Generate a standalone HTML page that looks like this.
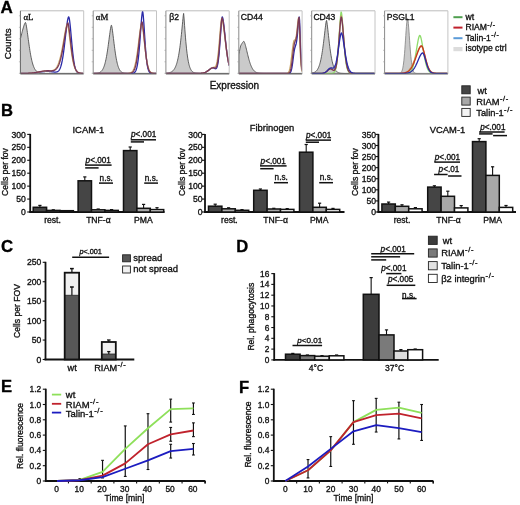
<!DOCTYPE html>
<html><head><meta charset="utf-8"><style>
html,body{margin:0;padding:0;background:#fff;}
svg text{}

body{width:520px;height:505px;overflow:hidden;font-family:"Liberation Sans",sans-serif;}
svg{display:block;will-change:transform;filter:blur(0.3px);}
</style></head><body>
<svg width="520" height="505" viewBox="0 0 520 505">
<rect width="520" height="505" fill="#fff"/>
<text x="0.6" y="13.2" font-size="17" text-anchor="start" font-weight="bold" fill="#000" stroke="#000" stroke-width="0.33" style="font-family:'Liberation Sans', sans-serif">A</text>
<text transform="translate(10.8,43.9) rotate(-90)" font-size="9.75" text-anchor="middle" fill="#111" stroke="#111" stroke-width="0.33" style="font-family:'Liberation Sans', sans-serif">Counts</text>
<text x="209.7" y="89.1" font-size="10" text-anchor="start" font-weight="normal" fill="#111" stroke="#111" stroke-width="0.33" style="font-family:'Liberation Sans', sans-serif">Expression</text>
<g>
<clipPath id="c0"><rect x="20.4" y="10.8" width="63.3" height="63.2"/></clipPath>
<g clip-path="url(#c0)">
<path d="M20.4 74 L20.4 38.82 L20.72 37.57 L21.03 36.31 L21.35 35.06 L21.67 33.81 L21.98 32.58 L22.3 31.36 L22.62 30.17 L22.93 29.01 L23.25 27.89 L23.56 26.83 L23.88 25.82 L24.2 24.89 L24.51 24.06 L24.83 23.33 L25.15 22.76 L25.46 22.41 L25.78 23.05 L26.1 24.4 L26.41 26.11 L26.73 28.08 L27.05 30.23 L27.36 32.48 L27.68 34.81 L28 37.16 L28.31 39.51 L28.63 41.82 L28.95 44.09 L29.26 46.29 L29.58 48.41 L29.89 50.44 L30.21 52.37 L30.53 54.19 L30.84 55.91 L31.16 57.52 L31.48 59.02 L31.79 60.41 L32.11 61.7 L32.43 62.89 L32.74 63.98 L33.06 64.98 L33.38 65.88 L33.69 66.71 L34.01 67.46 L34.33 68.14 L34.64 68.75 L34.96 69.3 L35.28 69.79 L35.59 70.23 L35.91 70.62 L36.22 70.97 L36.54 71.28 L36.86 71.55 L37.17 71.79 L37.49 72 L37.81 72.19 L38.12 72.35 L38.44 72.5 L38.76 72.62 L39.07 72.73 L39.39 72.82 L39.71 72.91 L40.02 72.98 L40.34 73.04 L40.66 73.09 L40.97 73.14 L41.29 73.18 L41.61 73.21 L41.92 73.24 L42.24 73.26 L42.55 73.29 L42.87 73.3 L43.19 73.32 L43.5 73.33 L43.82 73.34 L44.14 73.35 L44.45 73.36 L44.77 73.37 L45.09 73.37 L45.4 73.38 L45.72 73.38 L46.04 73.38 L46.35 73.39 L46.67 73.39 L46.99 73.39 L47.3 73.39 L47.62 73.39 L47.94 73.39 L48.25 73.4 L48.57 73.4 L48.88 73.4 L49.2 73.4 L49.52 73.4 L49.83 73.4 L50.15 73.4 L50.47 73.4 L50.78 73.4 L51.1 73.4 L51.42 73.4 L51.73 73.4 L52.05 73.4 L52.37 73.4 L52.68 73.4 L53 73.4 L53.32 73.4 L53.63 73.4 L53.95 73.4 L54.27 73.4 L54.58 73.4 L54.9 73.4 L55.21 73.4 L55.53 73.4 L55.85 73.4 L56.16 73.4 L56.48 73.4 L56.8 73.4 L57.11 73.4 L57.43 73.4 L57.75 73.4 L58.06 73.4 L58.38 73.4 L58.7 73.4 L59.01 73.4 L59.33 73.4 L59.65 73.4 L59.96 73.4 L60.28 73.4 L60.6 73.4 L60.91 73.4 L61.23 73.4 L61.54 73.4 L61.86 73.4 L62.18 73.4 L62.49 73.4 L62.81 73.4 L63.13 73.4 L63.44 73.4 L63.76 73.4 L64.08 73.4 L64.39 73.4 L64.71 73.4 L65.03 73.4 L65.34 73.4 L65.66 73.4 L65.98 73.4 L66.29 73.4 L66.61 73.4 L66.93 73.4 L67.24 73.4 L67.56 73.4 L67.88 73.4 L68.19 73.4 L68.51 73.4 L68.82 73.4 L69.14 73.4 L69.46 73.4 L69.77 73.4 L70.09 73.4 L70.41 73.4 L70.72 73.4 L71.04 73.4 L71.36 73.4 L71.67 73.4 L71.99 73.4 L72.31 73.4 L72.62 73.4 L72.94 73.4 L73.26 73.4 L73.57 73.4 L73.89 73.4 L74.2 73.4 L74.52 73.4 L74.84 73.4 L75.15 73.4 L75.47 73.4 L75.79 73.4 L76.1 73.4 L76.42 73.4 L76.74 73.4 L77.05 73.4 L77.37 73.4 L77.69 73.4 L78 73.4 L78.32 73.4 L78.64 73.4 L78.95 73.4 L79.27 73.4 L79.59 73.4 L79.9 73.4 L80.22 73.4 L80.53 73.4 L80.85 73.4 L81.17 73.4 L81.48 73.4 L81.8 73.4 L82.12 73.4 L82.43 73.4 L82.75 73.4 L83.07 73.4 L83.38 73.4 L83.7 73.4 L83.7 74 Z" fill="#cacaca" stroke="#505050" stroke-width="0.9"/>
<path d="M20.4 73.4 L20.72 73.39 L21.03 73.39 L21.35 73.39 L21.67 73.39 L21.98 73.39 L22.3 73.39 L22.62 73.39 L22.93 73.39 L23.25 73.38 L23.56 73.38 L23.88 73.38 L24.2 73.38 L24.51 73.37 L24.83 73.37 L25.15 73.37 L25.46 73.36 L25.78 73.36 L26.1 73.35 L26.41 73.35 L26.73 73.34 L27.05 73.33 L27.36 73.33 L27.68 73.32 L28 73.31 L28.31 73.3 L28.63 73.29 L28.95 73.28 L29.26 73.26 L29.58 73.25 L29.89 73.24 L30.21 73.22 L30.53 73.2 L30.84 73.19 L31.16 73.17 L31.48 73.15 L31.79 73.12 L32.11 73.1 L32.43 73.07 L32.74 73.05 L33.06 73.02 L33.38 72.99 L33.69 72.96 L34.01 72.93 L34.33 72.89 L34.64 72.86 L34.96 72.82 L35.28 72.78 L35.59 72.74 L35.91 72.7 L36.22 72.66 L36.54 72.62 L36.86 72.57 L37.17 72.52 L37.49 72.48 L37.81 72.43 L38.12 72.38 L38.44 72.33 L38.76 72.28 L39.07 72.23 L39.39 72.18 L39.71 72.13 L40.02 72.08 L40.34 72.03 L40.66 71.98 L40.97 71.93 L41.29 71.89 L41.61 71.84 L41.92 71.8 L42.24 71.75 L42.55 71.71 L42.87 71.67 L43.19 71.63 L43.5 71.6 L43.82 71.57 L44.14 71.54 L44.45 71.51 L44.77 71.48 L45.09 71.46 L45.4 71.44 L45.72 71.43 L46.04 71.42 L46.35 71.41 L46.67 71.4 L46.99 71.4 L47.3 71.4 L47.62 71.41 L47.94 71.41 L48.25 71.43 L48.57 71.44 L48.88 71.46 L49.2 71.48 L49.52 71.5 L49.83 71.53 L50.15 71.56 L50.47 71.59 L50.78 71.63 L51.1 71.66 L51.42 71.7 L51.73 71.74 L52.05 71.78 L52.37 71.82 L52.68 71.86 L53 71.9 L53.32 71.93 L53.63 71.97 L53.95 72 L54.27 72.03 L54.58 72.06 L54.9 72.07 L55.21 72.08 L55.53 72.08 L55.85 72.06 L56.16 72.03 L56.48 71.98 L56.8 71.9 L57.11 71.8 L57.43 71.67 L57.75 71.5 L58.06 71.29 L58.38 71.03 L58.7 70.71 L59.01 70.32 L59.33 69.86 L59.65 69.32 L59.96 68.69 L60.28 67.95 L60.6 67.11 L60.91 66.14 L61.23 65.04 L61.54 63.81 L61.86 62.42 L62.18 60.89 L62.49 59.2 L62.81 57.35 L63.13 55.34 L63.44 53.19 L63.76 50.88 L64.08 48.44 L64.39 45.88 L64.71 43.23 L65.03 40.5 L65.34 37.73 L65.66 34.95 L65.98 32.19 L66.29 29.51 L66.61 26.95 L66.93 24.56 L67.24 22.38 L67.56 20.48 L67.88 18.91 L68.19 17.73 L68.51 17.01 L68.82 16.97 L69.14 17.91 L69.46 19.58 L69.77 21.84 L70.09 24.57 L70.41 27.65 L70.72 30.99 L71.04 34.49 L71.36 38.04 L71.67 41.57 L71.99 45.02 L72.31 48.33 L72.62 51.45 L72.94 54.35 L73.26 57.01 L73.57 59.42 L73.89 61.58 L74.2 63.49 L74.52 65.16 L74.84 66.6 L75.15 67.84 L75.47 68.88 L75.79 69.76 L76.1 70.49 L76.42 71.1 L76.74 71.59 L77.05 71.99 L77.37 72.3 L77.69 72.56 L78 72.76 L78.32 72.91 L78.64 73.03 L78.95 73.13 L79.27 73.2 L79.59 73.25 L79.9 73.29 L80.22 73.32 L80.53 73.34 L80.85 73.36 L81.17 73.37 L81.48 73.38 L81.8 73.39 L82.12 73.39 L82.43 73.39 L82.75 73.4 L83.07 73.4 L83.38 73.4 L83.7 73.4" fill="none" stroke="#2a2aa8" stroke-width="1.3" stroke-linejoin="round"/>
<path d="M20.4 73.39 L20.72 73.39 L21.03 73.39 L21.35 73.39 L21.67 73.39 L21.98 73.39 L22.3 73.39 L22.62 73.39 L22.93 73.38 L23.25 73.38 L23.56 73.38 L23.88 73.38 L24.2 73.37 L24.51 73.37 L24.83 73.36 L25.15 73.36 L25.46 73.35 L25.78 73.35 L26.1 73.34 L26.41 73.34 L26.73 73.33 L27.05 73.32 L27.36 73.31 L27.68 73.3 L28 73.29 L28.31 73.28 L28.63 73.27 L28.95 73.25 L29.26 73.24 L29.58 73.22 L29.89 73.2 L30.21 73.18 L30.53 73.16 L30.84 73.14 L31.16 73.12 L31.48 73.09 L31.79 73.07 L32.11 73.04 L32.43 73.01 L32.74 72.98 L33.06 72.94 L33.38 72.91 L33.69 72.87 L34.01 72.83 L34.33 72.79 L34.64 72.75 L34.96 72.71 L35.28 72.66 L35.59 72.61 L35.91 72.56 L36.22 72.51 L36.54 72.46 L36.86 72.4 L37.17 72.35 L37.49 72.29 L37.81 72.23 L38.12 72.18 L38.44 72.12 L38.76 72.06 L39.07 72 L39.39 71.94 L39.71 71.88 L40.02 71.82 L40.34 71.76 L40.66 71.7 L40.97 71.64 L41.29 71.58 L41.61 71.52 L41.92 71.47 L42.24 71.42 L42.55 71.37 L42.87 71.32 L43.19 71.27 L43.5 71.22 L43.82 71.18 L44.14 71.14 L44.45 71.11 L44.77 71.07 L45.09 71.04 L45.4 71.01 L45.72 70.99 L46.04 70.97 L46.35 70.95 L46.67 70.93 L46.99 70.92 L47.3 70.9 L47.62 70.89 L47.94 70.88 L48.25 70.88 L48.57 70.87 L48.88 70.86 L49.2 70.85 L49.52 70.84 L49.83 70.83 L50.15 70.82 L50.47 70.8 L50.78 70.77 L51.1 70.74 L51.42 70.7 L51.73 70.66 L52.05 70.6 L52.37 70.53 L52.68 70.45 L53 70.35 L53.32 70.23 L53.63 70.09 L53.95 69.93 L54.27 69.75 L54.58 69.54 L54.9 69.29 L55.21 69.02 L55.53 68.71 L55.85 68.36 L56.16 67.97 L56.48 67.53 L56.8 67.05 L57.11 66.51 L57.43 65.92 L57.75 65.27 L58.06 64.57 L58.38 63.79 L58.7 62.95 L59.01 62.05 L59.33 61.07 L59.65 60.02 L59.96 58.89 L60.28 57.69 L60.6 56.42 L60.91 55.07 L61.23 53.64 L61.54 52.15 L61.86 50.59 L62.18 48.96 L62.49 47.28 L62.81 45.55 L63.13 43.77 L63.44 41.96 L63.76 40.13 L64.08 38.29 L64.39 36.46 L64.71 34.65 L65.03 32.88 L65.34 31.17 L65.66 29.55 L65.98 28.05 L66.29 26.69 L66.61 25.52 L66.93 24.58 L67.24 23.96 L67.56 24.07 L67.88 25.17 L68.19 26.8 L68.51 28.8 L68.82 31.06 L69.14 33.51 L69.46 36.07 L69.77 38.7 L70.09 41.33 L70.41 43.94 L70.72 46.48 L71.04 48.93 L71.36 51.28 L71.67 53.49 L71.99 55.58 L72.31 57.51 L72.62 59.3 L72.94 60.95 L73.26 62.45 L73.57 63.81 L73.89 65.04 L74.2 66.13 L74.52 67.11 L74.84 67.98 L75.15 68.75 L75.47 69.42 L75.79 70.01 L76.1 70.52 L76.42 70.97 L76.74 71.35 L77.05 71.68 L77.37 71.96 L77.69 72.2 L78 72.4 L78.32 72.57 L78.64 72.72 L78.95 72.84 L79.27 72.94 L79.59 73.02 L79.9 73.09 L80.22 73.15 L80.53 73.2 L80.85 73.24 L81.17 73.27 L81.48 73.29 L81.8 73.32 L82.12 73.33 L82.43 73.35 L82.75 73.36 L83.07 73.37 L83.38 73.37 L83.7 73.38" fill="none" stroke="#c6a263" stroke-width="1.3" stroke-linejoin="round"/>
<path d="M20.4 73.39 L20.72 73.39 L21.03 73.39 L21.35 73.39 L21.67 73.39 L21.98 73.39 L22.3 73.39 L22.62 73.38 L22.93 73.38 L23.25 73.38 L23.56 73.38 L23.88 73.37 L24.2 73.37 L24.51 73.37 L24.83 73.36 L25.15 73.36 L25.46 73.35 L25.78 73.34 L26.1 73.34 L26.41 73.33 L26.73 73.32 L27.05 73.31 L27.36 73.3 L27.68 73.29 L28 73.28 L28.31 73.27 L28.63 73.26 L28.95 73.24 L29.26 73.22 L29.58 73.21 L29.89 73.19 L30.21 73.17 L30.53 73.14 L30.84 73.12 L31.16 73.1 L31.48 73.07 L31.79 73.04 L32.11 73.01 L32.43 72.98 L32.74 72.94 L33.06 72.91 L33.38 72.87 L33.69 72.83 L34.01 72.79 L34.33 72.74 L34.64 72.7 L34.96 72.65 L35.28 72.6 L35.59 72.55 L35.91 72.49 L36.22 72.44 L36.54 72.38 L36.86 72.32 L37.17 72.26 L37.49 72.2 L37.81 72.14 L38.12 72.07 L38.44 72.01 L38.76 71.95 L39.07 71.88 L39.39 71.82 L39.71 71.75 L40.02 71.68 L40.34 71.62 L40.66 71.56 L40.97 71.49 L41.29 71.43 L41.61 71.37 L41.92 71.31 L42.24 71.26 L42.55 71.2 L42.87 71.15 L43.19 71.1 L43.5 71.05 L43.82 71.01 L44.14 70.97 L44.45 70.93 L44.77 70.9 L45.09 70.87 L45.4 70.84 L45.72 70.81 L46.04 70.79 L46.35 70.78 L46.67 70.77 L46.99 70.76 L47.3 70.75 L47.62 70.75 L47.94 70.75 L48.25 70.75 L48.57 70.75 L48.88 70.76 L49.2 70.77 L49.52 70.78 L49.83 70.78 L50.15 70.79 L50.47 70.8 L50.78 70.8 L51.1 70.8 L51.42 70.8 L51.73 70.78 L52.05 70.77 L52.37 70.74 L52.68 70.71 L53 70.66 L53.32 70.6 L53.63 70.52 L53.95 70.43 L54.27 70.31 L54.58 70.18 L54.9 70.02 L55.21 69.83 L55.53 69.61 L55.85 69.36 L56.16 69.07 L56.48 68.74 L56.8 68.37 L57.11 67.95 L57.43 67.49 L57.75 66.96 L58.06 66.39 L58.38 65.74 L58.7 65.04 L59.01 64.27 L59.33 63.42 L59.65 62.5 L59.96 61.51 L60.28 60.43 L60.6 59.28 L60.91 58.04 L61.23 56.72 L61.54 55.31 L61.86 53.83 L62.18 52.26 L62.49 50.62 L62.81 48.91 L63.13 47.13 L63.44 45.3 L63.76 43.41 L64.08 41.49 L64.39 39.55 L64.71 37.59 L65.03 35.64 L65.34 33.72 L65.66 31.84 L65.98 30.04 L66.29 28.35 L66.61 26.78 L66.93 25.39 L67.24 24.21 L67.56 23.32 L67.88 22.85 L68.19 23.5 L68.51 24.93 L68.82 26.85 L69.14 29.1 L69.46 31.59 L69.77 34.24 L70.09 36.97 L70.41 39.74 L70.72 42.49 L71.04 45.18 L71.36 47.78 L71.67 50.27 L71.99 52.63 L72.31 54.84 L72.62 56.9 L72.94 58.8 L73.26 60.54 L73.57 62.13 L73.89 63.56 L74.2 64.85 L74.52 66.01 L74.84 67.03 L75.15 67.94 L75.47 68.73 L75.79 69.43 L76.1 70.03 L76.42 70.56 L76.74 71.01 L77.05 71.39 L77.37 71.73 L77.69 72.01 L78 72.25 L78.32 72.45 L78.64 72.61 L78.95 72.76 L79.27 72.87 L79.59 72.97 L79.9 73.05 L80.22 73.12 L80.53 73.17 L80.85 73.22 L81.17 73.25 L81.48 73.28 L81.8 73.31 L82.12 73.33 L82.43 73.34 L82.75 73.35 L83.07 73.36 L83.38 73.37 L83.7 73.38" fill="none" stroke="#7a3858" stroke-width="1.3" stroke-linejoin="round"/>
</g>
<line x1="20.4" y1="10.8" x2="83.7" y2="10.8" stroke="#bdbdbd" stroke-width="1"/>
<line x1="83.7" y1="10.8" x2="83.7" y2="74" stroke="#c4c4c4" stroke-width="1"/>
<line x1="20.4" y1="74" x2="83.7" y2="74" stroke="#6a6a6a" stroke-width="1"/>
<line x1="20.4" y1="10.8" x2="20.4" y2="74" stroke="#6a6a6a" stroke-width="1"/>
<line x1="18.9" y1="15.8" x2="20.4" y2="15.8" stroke="#999" stroke-width="0.6"/>
<line x1="18.9" y1="27.3" x2="20.4" y2="27.3" stroke="#999" stroke-width="0.6"/>
<line x1="18.9" y1="38.8" x2="20.4" y2="38.8" stroke="#999" stroke-width="0.6"/>
<line x1="18.9" y1="50.3" x2="20.4" y2="50.3" stroke="#999" stroke-width="0.6"/>
<line x1="18.9" y1="61.8" x2="20.4" y2="61.8" stroke="#999" stroke-width="0.6"/>
<line x1="18.9" y1="73.3" x2="20.4" y2="73.3" stroke="#999" stroke-width="0.6"/>
</g>
<g>
<clipPath id="c1"><rect x="93.2" y="10.8" width="63.3" height="63.2"/></clipPath>
<g clip-path="url(#c1)">
<path d="M93.2 74 L93.2 73.37 L93.52 73.37 L93.83 73.36 L94.15 73.35 L94.47 73.35 L94.78 73.33 L95.1 73.32 L95.42 73.3 L95.73 73.28 L96.05 73.26 L96.37 73.23 L96.68 73.2 L97 73.16 L97.31 73.12 L97.63 73.07 L97.95 73 L98.26 72.93 L98.58 72.85 L98.9 72.75 L99.21 72.63 L99.53 72.5 L99.85 72.34 L100.16 72.16 L100.48 71.96 L100.8 71.72 L101.11 71.45 L101.43 71.14 L101.75 70.79 L102.06 70.39 L102.38 69.94 L102.7 69.43 L103.01 68.86 L103.33 68.21 L103.64 67.49 L103.96 66.69 L104.28 65.8 L104.59 64.81 L104.91 63.72 L105.23 62.53 L105.54 61.22 L105.86 59.8 L106.18 58.26 L106.49 56.6 L106.81 54.82 L107.13 52.93 L107.44 50.91 L107.76 48.79 L108.08 46.58 L108.39 44.28 L108.71 41.91 L109.03 39.51 L109.34 37.1 L109.66 34.71 L109.97 32.39 L110.29 30.2 L110.61 28.21 L110.92 26.52 L111.24 25.3 L111.56 25.33 L111.87 26.71 L112.19 28.61 L112.51 30.84 L112.82 33.28 L113.14 35.84 L113.46 38.46 L113.77 41.08 L114.09 43.67 L114.41 46.19 L114.72 48.62 L115.04 50.93 L115.36 53.11 L115.67 55.16 L115.99 57.07 L116.3 58.83 L116.62 60.45 L116.94 61.94 L117.25 63.29 L117.57 64.51 L117.89 65.61 L118.2 66.59 L118.52 67.47 L118.84 68.26 L119.15 68.95 L119.47 69.56 L119.79 70.1 L120.1 70.57 L120.42 70.98 L120.74 71.33 L121.05 71.64 L121.37 71.91 L121.69 72.14 L122 72.33 L122.32 72.5 L122.63 72.65 L122.95 72.77 L123.27 72.87 L123.58 72.96 L123.9 73.03 L124.22 73.1 L124.53 73.15 L124.85 73.19 L125.17 73.23 L125.48 73.26 L125.8 73.28 L126.12 73.31 L126.43 73.32 L126.75 73.34 L127.07 73.35 L127.38 73.36 L127.7 73.37 L128.01 73.37 L128.33 73.38 L128.65 73.38 L128.96 73.39 L129.28 73.39 L129.6 73.39 L129.91 73.39 L130.23 73.39 L130.55 73.4 L130.86 73.4 L131.18 73.4 L131.5 73.4 L131.81 73.4 L132.13 73.4 L132.45 73.4 L132.76 73.4 L133.08 73.4 L133.4 73.4 L133.71 73.4 L134.03 73.4 L134.34 73.4 L134.66 73.4 L134.98 73.4 L135.29 73.4 L135.61 73.4 L135.93 73.4 L136.24 73.4 L136.56 73.4 L136.88 73.4 L137.19 73.4 L137.51 73.4 L137.83 73.4 L138.14 73.4 L138.46 73.4 L138.78 73.4 L139.09 73.4 L139.41 73.4 L139.73 73.4 L140.04 73.4 L140.36 73.4 L140.68 73.4 L140.99 73.4 L141.31 73.4 L141.62 73.4 L141.94 73.4 L142.26 73.4 L142.57 73.4 L142.89 73.4 L143.21 73.4 L143.52 73.4 L143.84 73.4 L144.16 73.4 L144.47 73.4 L144.79 73.4 L145.11 73.4 L145.42 73.4 L145.74 73.4 L146.06 73.4 L146.37 73.4 L146.69 73.4 L147 73.4 L147.32 73.4 L147.64 73.4 L147.95 73.4 L148.27 73.4 L148.59 73.4 L148.9 73.4 L149.22 73.4 L149.54 73.4 L149.85 73.4 L150.17 73.4 L150.49 73.4 L150.8 73.4 L151.12 73.4 L151.44 73.4 L151.75 73.4 L152.07 73.4 L152.39 73.4 L152.7 73.4 L153.02 73.4 L153.34 73.4 L153.65 73.4 L153.97 73.4 L154.28 73.4 L154.6 73.4 L154.92 73.4 L155.23 73.4 L155.55 73.4 L155.87 73.4 L156.18 73.4 L156.5 73.4 L156.5 74 Z" fill="#cacaca" stroke="#505050" stroke-width="0.9"/>
<path d="M93.2 73.4 L93.52 73.4 L93.83 73.4 L94.15 73.4 L94.47 73.4 L94.78 73.4 L95.1 73.4 L95.42 73.4 L95.73 73.4 L96.05 73.4 L96.37 73.4 L96.68 73.4 L97 73.4 L97.31 73.4 L97.63 73.4 L97.95 73.4 L98.26 73.4 L98.58 73.4 L98.9 73.4 L99.21 73.4 L99.53 73.4 L99.85 73.4 L100.16 73.4 L100.48 73.4 L100.8 73.4 L101.11 73.4 L101.43 73.4 L101.75 73.4 L102.06 73.4 L102.38 73.4 L102.7 73.4 L103.01 73.4 L103.33 73.4 L103.64 73.4 L103.96 73.4 L104.28 73.4 L104.59 73.4 L104.91 73.4 L105.23 73.4 L105.54 73.4 L105.86 73.4 L106.18 73.4 L106.49 73.4 L106.81 73.4 L107.13 73.4 L107.44 73.4 L107.76 73.4 L108.08 73.4 L108.39 73.4 L108.71 73.4 L109.03 73.4 L109.34 73.4 L109.66 73.4 L109.97 73.4 L110.29 73.4 L110.61 73.4 L110.92 73.4 L111.24 73.4 L111.56 73.4 L111.87 73.4 L112.19 73.4 L112.51 73.4 L112.82 73.4 L113.14 73.4 L113.46 73.4 L113.77 73.4 L114.09 73.4 L114.41 73.4 L114.72 73.4 L115.04 73.4 L115.36 73.4 L115.67 73.4 L115.99 73.4 L116.3 73.4 L116.62 73.4 L116.94 73.4 L117.25 73.4 L117.57 73.4 L117.89 73.4 L118.2 73.4 L118.52 73.4 L118.84 73.4 L119.15 73.4 L119.47 73.4 L119.79 73.4 L120.1 73.4 L120.42 73.4 L120.74 73.4 L121.05 73.4 L121.37 73.4 L121.69 73.4 L122 73.4 L122.32 73.4 L122.63 73.4 L122.95 73.4 L123.27 73.4 L123.58 73.4 L123.9 73.4 L124.22 73.4 L124.53 73.4 L124.85 73.4 L125.17 73.4 L125.48 73.4 L125.8 73.4 L126.12 73.4 L126.43 73.4 L126.75 73.4 L127.07 73.4 L127.38 73.4 L127.7 73.4 L128.01 73.4 L128.33 73.4 L128.65 73.4 L128.96 73.4 L129.28 73.4 L129.6 73.4 L129.91 73.39 L130.23 73.39 L130.55 73.38 L130.86 73.38 L131.18 73.37 L131.5 73.35 L131.81 73.34 L132.13 73.31 L132.45 73.27 L132.76 73.22 L133.08 73.16 L133.4 73.07 L133.71 72.96 L134.03 72.8 L134.34 72.6 L134.66 72.35 L134.98 72.02 L135.29 71.6 L135.61 71.07 L135.93 70.41 L136.24 69.6 L136.56 68.61 L136.88 67.41 L137.19 65.96 L137.51 64.26 L137.83 62.26 L138.14 59.94 L138.46 57.29 L138.78 54.3 L139.09 50.96 L139.41 47.31 L139.73 43.36 L140.04 39.18 L140.36 34.83 L140.68 30.43 L140.99 26.07 L141.31 21.93 L141.62 18.16 L141.94 14.97 L142.26 12.6 L142.57 11.42 L142.89 12.5 L143.21 15.15 L143.52 18.82 L143.84 23.16 L144.16 27.91 L144.47 32.83 L144.79 37.74 L145.11 42.48 L145.42 46.95 L145.74 51.05 L146.06 54.75 L146.37 58.03 L146.69 60.87 L147 63.31 L147.32 65.36 L147.64 67.06 L147.95 68.46 L148.27 69.59 L148.59 70.49 L148.9 71.2 L149.22 71.75 L149.54 72.18 L149.85 72.5 L150.17 72.75 L150.49 72.93 L150.8 73.07 L151.12 73.16 L151.44 73.23 L151.75 73.29 L152.07 73.32 L152.39 73.35 L152.7 73.36 L153.02 73.38 L153.34 73.38 L153.65 73.39 L153.97 73.39 L154.28 73.4 L154.6 73.4 L154.92 73.4 L155.23 73.4 L155.55 73.4 L155.87 73.4 L156.18 73.4 L156.5 73.4" fill="none" stroke="#2a2aa8" stroke-width="1.3" stroke-linejoin="round"/>
<path d="M93.2 73.4 L93.52 73.4 L93.83 73.4 L94.15 73.4 L94.47 73.4 L94.78 73.4 L95.1 73.4 L95.42 73.4 L95.73 73.4 L96.05 73.4 L96.37 73.4 L96.68 73.4 L97 73.4 L97.31 73.4 L97.63 73.4 L97.95 73.4 L98.26 73.4 L98.58 73.4 L98.9 73.4 L99.21 73.4 L99.53 73.4 L99.85 73.4 L100.16 73.4 L100.48 73.4 L100.8 73.4 L101.11 73.4 L101.43 73.4 L101.75 73.4 L102.06 73.4 L102.38 73.4 L102.7 73.4 L103.01 73.4 L103.33 73.4 L103.64 73.4 L103.96 73.4 L104.28 73.4 L104.59 73.4 L104.91 73.4 L105.23 73.4 L105.54 73.4 L105.86 73.4 L106.18 73.4 L106.49 73.4 L106.81 73.4 L107.13 73.4 L107.44 73.4 L107.76 73.4 L108.08 73.4 L108.39 73.4 L108.71 73.4 L109.03 73.4 L109.34 73.4 L109.66 73.4 L109.97 73.4 L110.29 73.4 L110.61 73.4 L110.92 73.4 L111.24 73.4 L111.56 73.4 L111.87 73.4 L112.19 73.4 L112.51 73.4 L112.82 73.4 L113.14 73.4 L113.46 73.4 L113.77 73.4 L114.09 73.4 L114.41 73.4 L114.72 73.4 L115.04 73.4 L115.36 73.4 L115.67 73.4 L115.99 73.4 L116.3 73.4 L116.62 73.4 L116.94 73.4 L117.25 73.4 L117.57 73.4 L117.89 73.4 L118.2 73.4 L118.52 73.4 L118.84 73.4 L119.15 73.4 L119.47 73.4 L119.79 73.4 L120.1 73.4 L120.42 73.4 L120.74 73.4 L121.05 73.4 L121.37 73.4 L121.69 73.4 L122 73.4 L122.32 73.4 L122.63 73.4 L122.95 73.4 L123.27 73.4 L123.58 73.4 L123.9 73.4 L124.22 73.4 L124.53 73.39 L124.85 73.39 L125.17 73.39 L125.48 73.39 L125.8 73.38 L126.12 73.38 L126.43 73.37 L126.75 73.36 L127.07 73.35 L127.38 73.33 L127.7 73.31 L128.01 73.29 L128.33 73.26 L128.65 73.22 L128.96 73.18 L129.28 73.12 L129.6 73.05 L129.91 72.97 L130.23 72.86 L130.55 72.74 L130.86 72.58 L131.18 72.4 L131.5 72.18 L131.81 71.92 L132.13 71.61 L132.45 71.25 L132.76 70.82 L133.08 70.33 L133.4 69.75 L133.71 69.09 L134.03 68.32 L134.34 67.46 L134.66 66.47 L134.98 65.36 L135.29 64.11 L135.61 62.73 L135.93 61.2 L136.24 59.52 L136.56 57.69 L136.88 55.71 L137.19 53.59 L137.51 51.34 L137.83 48.96 L138.14 46.49 L138.46 43.93 L138.78 41.32 L139.09 38.7 L139.41 36.11 L139.73 33.58 L140.04 31.18 L140.36 28.97 L140.68 27 L140.99 25.35 L141.31 24.12 L141.62 23.44 L141.94 23.78 L142.26 24.98 L142.57 26.73 L142.89 28.89 L143.21 31.38 L143.52 34.08 L143.84 36.93 L144.16 39.84 L144.47 42.77 L144.79 45.65 L145.11 48.45 L145.42 51.12 L145.74 53.65 L146.06 56 L146.37 58.18 L146.69 60.17 L147 61.98 L147.32 63.6 L147.64 65.04 L147.95 66.31 L148.27 67.42 L148.59 68.39 L148.9 69.23 L149.22 69.94 L149.54 70.55 L149.85 71.07 L150.17 71.5 L150.49 71.86 L150.8 72.16 L151.12 72.41 L151.44 72.61 L151.75 72.77 L152.07 72.9 L152.39 73.01 L152.7 73.1 L153.02 73.16 L153.34 73.22 L153.65 73.26 L153.97 73.29 L154.28 73.32 L154.6 73.34 L154.92 73.35 L155.23 73.36 L155.55 73.37 L155.87 73.38 L156.18 73.39 L156.5 73.39" fill="none" stroke="#c6a263" stroke-width="1.3" stroke-linejoin="round"/>
<path d="M93.2 73.4 L93.52 73.4 L93.83 73.4 L94.15 73.4 L94.47 73.4 L94.78 73.4 L95.1 73.4 L95.42 73.4 L95.73 73.4 L96.05 73.4 L96.37 73.4 L96.68 73.4 L97 73.4 L97.31 73.4 L97.63 73.4 L97.95 73.4 L98.26 73.4 L98.58 73.4 L98.9 73.4 L99.21 73.4 L99.53 73.4 L99.85 73.4 L100.16 73.4 L100.48 73.4 L100.8 73.4 L101.11 73.4 L101.43 73.4 L101.75 73.4 L102.06 73.4 L102.38 73.4 L102.7 73.4 L103.01 73.4 L103.33 73.4 L103.64 73.4 L103.96 73.4 L104.28 73.4 L104.59 73.4 L104.91 73.4 L105.23 73.4 L105.54 73.4 L105.86 73.4 L106.18 73.4 L106.49 73.4 L106.81 73.4 L107.13 73.4 L107.44 73.4 L107.76 73.4 L108.08 73.4 L108.39 73.4 L108.71 73.4 L109.03 73.4 L109.34 73.4 L109.66 73.4 L109.97 73.4 L110.29 73.4 L110.61 73.4 L110.92 73.4 L111.24 73.4 L111.56 73.4 L111.87 73.4 L112.19 73.4 L112.51 73.4 L112.82 73.4 L113.14 73.4 L113.46 73.4 L113.77 73.4 L114.09 73.4 L114.41 73.4 L114.72 73.4 L115.04 73.4 L115.36 73.4 L115.67 73.4 L115.99 73.4 L116.3 73.4 L116.62 73.4 L116.94 73.4 L117.25 73.4 L117.57 73.4 L117.89 73.4 L118.2 73.4 L118.52 73.4 L118.84 73.4 L119.15 73.4 L119.47 73.4 L119.79 73.4 L120.1 73.4 L120.42 73.4 L120.74 73.4 L121.05 73.4 L121.37 73.4 L121.69 73.4 L122 73.4 L122.32 73.4 L122.63 73.4 L122.95 73.4 L123.27 73.4 L123.58 73.4 L123.9 73.4 L124.22 73.4 L124.53 73.4 L124.85 73.4 L125.17 73.4 L125.48 73.4 L125.8 73.4 L126.12 73.39 L126.43 73.39 L126.75 73.39 L127.07 73.39 L127.38 73.38 L127.7 73.37 L128.01 73.37 L128.33 73.35 L128.65 73.34 L128.96 73.32 L129.28 73.3 L129.6 73.27 L129.91 73.23 L130.23 73.18 L130.55 73.12 L130.86 73.04 L131.18 72.94 L131.5 72.82 L131.81 72.67 L132.13 72.49 L132.45 72.27 L132.76 72 L133.08 71.68 L133.4 71.3 L133.71 70.84 L134.03 70.29 L134.34 69.66 L134.66 68.91 L134.98 68.05 L135.29 67.05 L135.61 65.91 L135.93 64.61 L136.24 63.15 L136.56 61.52 L136.88 59.7 L137.19 57.71 L137.51 55.53 L137.83 53.18 L138.14 50.66 L138.46 48 L138.78 45.21 L139.09 42.34 L139.41 39.41 L139.73 36.49 L140.04 33.62 L140.36 30.87 L140.68 28.31 L140.99 26.03 L141.31 24.12 L141.62 22.7 L141.94 21.93 L142.26 22.42 L142.57 23.89 L142.89 26.01 L143.21 28.6 L143.52 31.54 L143.84 34.69 L144.16 37.97 L144.47 41.28 L144.79 44.54 L145.11 47.7 L145.42 50.72 L145.74 53.54 L146.06 56.16 L146.37 58.55 L146.69 60.7 L147 62.63 L147.32 64.33 L147.64 65.82 L147.95 67.11 L148.27 68.21 L148.59 69.16 L148.9 69.95 L149.22 70.61 L149.54 71.17 L149.85 71.62 L150.17 71.99 L150.49 72.29 L150.8 72.53 L151.12 72.73 L151.44 72.88 L151.75 73 L152.07 73.1 L152.39 73.17 L152.7 73.23 L153.02 73.27 L153.34 73.3 L153.65 73.33 L153.97 73.35 L154.28 73.36 L154.6 73.37 L154.92 73.38 L155.23 73.39 L155.55 73.39 L155.87 73.39 L156.18 73.39 L156.5 73.4" fill="none" stroke="#7a3858" stroke-width="1.3" stroke-linejoin="round"/>
</g>
<line x1="93.2" y1="10.8" x2="156.5" y2="10.8" stroke="#bdbdbd" stroke-width="1"/>
<line x1="156.5" y1="10.8" x2="156.5" y2="74" stroke="#c4c4c4" stroke-width="1"/>
<line x1="93.2" y1="74" x2="156.5" y2="74" stroke="#6a6a6a" stroke-width="1"/>
<line x1="93.2" y1="10.8" x2="93.2" y2="74" stroke="#8a8a8a" stroke-width="1"/>
<line x1="91.7" y1="15.8" x2="93.2" y2="15.8" stroke="#999" stroke-width="0.6"/>
<line x1="91.7" y1="27.3" x2="93.2" y2="27.3" stroke="#999" stroke-width="0.6"/>
<line x1="91.7" y1="38.8" x2="93.2" y2="38.8" stroke="#999" stroke-width="0.6"/>
<line x1="91.7" y1="50.3" x2="93.2" y2="50.3" stroke="#999" stroke-width="0.6"/>
<line x1="91.7" y1="61.8" x2="93.2" y2="61.8" stroke="#999" stroke-width="0.6"/>
<line x1="91.7" y1="73.3" x2="93.2" y2="73.3" stroke="#999" stroke-width="0.6"/>
</g>
<g>
<clipPath id="c2"><rect x="165.9" y="10.8" width="63.3" height="63.2"/></clipPath>
<g clip-path="url(#c2)">
<path d="M165.9 74 L165.9 73.23 L166.22 73.21 L166.53 73.18 L166.85 73.15 L167.17 73.12 L167.48 73.08 L167.8 73.03 L168.12 72.98 L168.43 72.93 L168.75 72.86 L169.06 72.79 L169.38 72.71 L169.7 72.62 L170.01 72.52 L170.33 72.4 L170.65 72.28 L170.96 72.13 L171.28 71.97 L171.6 71.79 L171.91 71.58 L172.23 71.36 L172.55 71.1 L172.86 70.82 L173.18 70.5 L173.5 70.15 L173.81 69.76 L174.13 69.32 L174.45 68.84 L174.76 68.3 L175.08 67.71 L175.4 67.06 L175.71 66.33 L176.03 65.54 L176.34 64.66 L176.66 63.7 L176.98 62.64 L177.29 61.48 L177.61 60.22 L177.93 58.84 L178.24 57.34 L178.56 55.71 L178.88 53.94 L179.19 52.03 L179.51 49.97 L179.83 47.76 L180.14 45.39 L180.46 42.86 L180.78 40.18 L181.09 37.35 L181.41 34.37 L181.72 31.27 L182.04 28.07 L182.36 24.8 L182.67 21.52 L182.99 18.31 L183.31 15.36 L183.62 13.43 L183.94 16.82 L184.26 21.01 L184.57 25.38 L184.89 29.71 L185.21 33.9 L185.52 37.86 L185.84 41.57 L186.16 45 L186.47 48.16 L186.79 51.04 L187.11 53.65 L187.42 56 L187.74 58.12 L188.06 60.01 L188.37 61.7 L188.69 63.19 L189 64.52 L189.32 65.68 L189.64 66.71 L189.95 67.61 L190.27 68.4 L190.59 69.09 L190.9 69.69 L191.22 70.21 L191.54 70.67 L191.85 71.06 L192.17 71.4 L192.49 71.69 L192.8 71.94 L193.12 72.16 L193.44 72.34 L193.75 72.5 L194.07 72.64 L194.38 72.75 L194.7 72.85 L195.02 72.94 L195.33 73.01 L195.65 73.07 L195.97 73.12 L196.28 73.17 L196.6 73.2 L196.92 73.24 L197.23 73.26 L197.55 73.28 L197.87 73.3 L198.18 73.32 L198.5 73.33 L198.82 73.34 L199.13 73.35 L199.45 73.36 L199.77 73.37 L200.08 73.37 L200.4 73.38 L200.72 73.38 L201.03 73.38 L201.35 73.39 L201.66 73.39 L201.98 73.39 L202.3 73.39 L202.61 73.39 L202.93 73.4 L203.25 73.4 L203.56 73.4 L203.88 73.4 L204.2 73.4 L204.51 73.4 L204.83 73.4 L205.15 73.4 L205.46 73.4 L205.78 73.4 L206.1 73.4 L206.41 73.4 L206.73 73.4 L207.04 73.4 L207.36 73.4 L207.68 73.4 L207.99 73.4 L208.31 73.4 L208.63 73.4 L208.94 73.4 L209.26 73.4 L209.58 73.4 L209.89 73.4 L210.21 73.4 L210.53 73.4 L210.84 73.4 L211.16 73.4 L211.48 73.4 L211.79 73.4 L212.11 73.4 L212.43 73.4 L212.74 73.4 L213.06 73.4 L213.38 73.4 L213.69 73.4 L214.01 73.4 L214.32 73.4 L214.64 73.4 L214.96 73.4 L215.27 73.4 L215.59 73.4 L215.91 73.4 L216.22 73.4 L216.54 73.4 L216.86 73.4 L217.17 73.4 L217.49 73.4 L217.81 73.4 L218.12 73.4 L218.44 73.4 L218.76 73.4 L219.07 73.4 L219.39 73.4 L219.7 73.4 L220.02 73.4 L220.34 73.4 L220.65 73.4 L220.97 73.4 L221.29 73.4 L221.6 73.4 L221.92 73.4 L222.24 73.4 L222.55 73.4 L222.87 73.4 L223.19 73.4 L223.5 73.4 L223.82 73.4 L224.14 73.4 L224.45 73.4 L224.77 73.4 L225.09 73.4 L225.4 73.4 L225.72 73.4 L226.03 73.4 L226.35 73.4 L226.67 73.4 L226.98 73.4 L227.3 73.4 L227.62 73.4 L227.93 73.4 L228.25 73.4 L228.57 73.4 L228.88 73.4 L229.2 73.4 L229.2 74 Z" fill="#cacaca" stroke="#505050" stroke-width="0.9"/>
<path d="M165.9 73.4 L166.22 73.4 L166.53 73.4 L166.85 73.4 L167.17 73.4 L167.48 73.4 L167.8 73.4 L168.12 73.4 L168.43 73.4 L168.75 73.4 L169.06 73.4 L169.38 73.4 L169.7 73.4 L170.01 73.4 L170.33 73.4 L170.65 73.4 L170.96 73.4 L171.28 73.4 L171.6 73.4 L171.91 73.4 L172.23 73.4 L172.55 73.4 L172.86 73.4 L173.18 73.4 L173.5 73.4 L173.81 73.4 L174.13 73.4 L174.45 73.4 L174.76 73.4 L175.08 73.4 L175.4 73.4 L175.71 73.4 L176.03 73.4 L176.34 73.4 L176.66 73.4 L176.98 73.4 L177.29 73.4 L177.61 73.4 L177.93 73.4 L178.24 73.4 L178.56 73.4 L178.88 73.4 L179.19 73.4 L179.51 73.4 L179.83 73.4 L180.14 73.4 L180.46 73.4 L180.78 73.4 L181.09 73.4 L181.41 73.4 L181.72 73.4 L182.04 73.4 L182.36 73.4 L182.67 73.4 L182.99 73.4 L183.31 73.4 L183.62 73.4 L183.94 73.4 L184.26 73.4 L184.57 73.4 L184.89 73.4 L185.21 73.4 L185.52 73.4 L185.84 73.4 L186.16 73.4 L186.47 73.4 L186.79 73.4 L187.11 73.4 L187.42 73.4 L187.74 73.4 L188.06 73.4 L188.37 73.4 L188.69 73.4 L189 73.4 L189.32 73.4 L189.64 73.4 L189.95 73.4 L190.27 73.4 L190.59 73.4 L190.9 73.4 L191.22 73.4 L191.54 73.4 L191.85 73.4 L192.17 73.4 L192.49 73.4 L192.8 73.4 L193.12 73.4 L193.44 73.4 L193.75 73.4 L194.07 73.4 L194.38 73.4 L194.7 73.4 L195.02 73.4 L195.33 73.4 L195.65 73.4 L195.97 73.4 L196.28 73.4 L196.6 73.4 L196.92 73.4 L197.23 73.39 L197.55 73.39 L197.87 73.39 L198.18 73.39 L198.5 73.38 L198.82 73.38 L199.13 73.37 L199.45 73.37 L199.77 73.36 L200.08 73.35 L200.4 73.33 L200.72 73.32 L201.03 73.3 L201.35 73.27 L201.66 73.24 L201.98 73.21 L202.3 73.17 L202.61 73.12 L202.93 73.07 L203.25 73.01 L203.56 72.93 L203.88 72.85 L204.2 72.76 L204.51 72.65 L204.83 72.54 L205.15 72.41 L205.46 72.26 L205.78 72.1 L206.1 71.93 L206.41 71.75 L206.73 71.55 L207.04 71.34 L207.36 71.12 L207.68 70.89 L207.99 70.65 L208.31 70.41 L208.63 70.16 L208.94 69.91 L209.26 69.67 L209.58 69.42 L209.89 69.19 L210.21 68.97 L210.53 68.75 L210.84 68.56 L211.16 68.38 L211.48 68.23 L211.79 68.1 L212.11 67.99 L212.43 67.91 L212.74 67.85 L213.06 67.81 L213.38 67.82 L213.69 67.9 L214.01 68.04 L214.32 68.21 L214.64 68.39 L214.96 68.56 L215.27 68.69 L215.59 68.74 L215.91 68.68 L216.22 68.47 L216.54 68.08 L216.86 67.46 L217.17 66.57 L217.49 65.37 L217.81 63.83 L218.12 61.91 L218.44 59.59 L218.76 56.86 L219.07 53.7 L219.39 50.14 L219.7 46.23 L220.02 42.02 L220.34 37.61 L220.65 33.14 L220.97 28.77 L221.29 24.7 L221.6 21.16 L221.92 18.45 L222.24 16.97 L222.55 17.3 L222.87 18.5 L223.19 20.25 L223.5 22.41 L223.82 24.9 L224.14 27.63 L224.45 30.52 L224.77 33.52 L225.09 36.56 L225.4 39.59 L225.72 42.57 L226.03 45.46 L226.35 48.23 L226.67 50.86 L226.98 53.33 L227.3 55.63 L227.62 57.75 L227.93 59.69 L228.25 61.46 L228.57 63.05 L228.88 64.48 L229.2 65.75" fill="none" stroke="#2a2aa8" stroke-width="1.3" stroke-linejoin="round"/>
<path d="M165.9 73.4 L166.22 73.4 L166.53 73.4 L166.85 73.4 L167.17 73.4 L167.48 73.4 L167.8 73.4 L168.12 73.4 L168.43 73.4 L168.75 73.4 L169.06 73.4 L169.38 73.4 L169.7 73.4 L170.01 73.4 L170.33 73.4 L170.65 73.4 L170.96 73.4 L171.28 73.4 L171.6 73.4 L171.91 73.4 L172.23 73.4 L172.55 73.4 L172.86 73.4 L173.18 73.4 L173.5 73.4 L173.81 73.4 L174.13 73.4 L174.45 73.4 L174.76 73.4 L175.08 73.4 L175.4 73.4 L175.71 73.4 L176.03 73.4 L176.34 73.4 L176.66 73.4 L176.98 73.4 L177.29 73.4 L177.61 73.4 L177.93 73.4 L178.24 73.4 L178.56 73.4 L178.88 73.4 L179.19 73.4 L179.51 73.4 L179.83 73.4 L180.14 73.4 L180.46 73.4 L180.78 73.4 L181.09 73.4 L181.41 73.4 L181.72 73.4 L182.04 73.4 L182.36 73.4 L182.67 73.4 L182.99 73.4 L183.31 73.4 L183.62 73.4 L183.94 73.4 L184.26 73.4 L184.57 73.4 L184.89 73.4 L185.21 73.4 L185.52 73.4 L185.84 73.4 L186.16 73.4 L186.47 73.4 L186.79 73.4 L187.11 73.4 L187.42 73.4 L187.74 73.4 L188.06 73.4 L188.37 73.4 L188.69 73.4 L189 73.4 L189.32 73.4 L189.64 73.4 L189.95 73.4 L190.27 73.4 L190.59 73.4 L190.9 73.4 L191.22 73.4 L191.54 73.4 L191.85 73.4 L192.17 73.4 L192.49 73.4 L192.8 73.4 L193.12 73.4 L193.44 73.4 L193.75 73.4 L194.07 73.4 L194.38 73.4 L194.7 73.4 L195.02 73.4 L195.33 73.4 L195.65 73.4 L195.97 73.4 L196.28 73.4 L196.6 73.4 L196.92 73.4 L197.23 73.39 L197.55 73.39 L197.87 73.39 L198.18 73.39 L198.5 73.38 L198.82 73.38 L199.13 73.37 L199.45 73.37 L199.77 73.36 L200.08 73.35 L200.4 73.33 L200.72 73.32 L201.03 73.3 L201.35 73.27 L201.66 73.24 L201.98 73.21 L202.3 73.17 L202.61 73.12 L202.93 73.07 L203.25 73.01 L203.56 72.93 L203.88 72.85 L204.2 72.76 L204.51 72.65 L204.83 72.54 L205.15 72.41 L205.46 72.26 L205.78 72.1 L206.1 71.93 L206.41 71.75 L206.73 71.55 L207.04 71.34 L207.36 71.12 L207.68 70.89 L207.99 70.65 L208.31 70.41 L208.63 70.16 L208.94 69.91 L209.26 69.66 L209.58 69.41 L209.89 69.17 L210.21 68.94 L210.53 68.72 L210.84 68.52 L211.16 68.33 L211.48 68.15 L211.79 67.99 L212.11 67.84 L212.43 67.7 L212.74 67.57 L213.06 67.45 L213.38 67.35 L213.69 67.29 L214.01 67.25 L214.32 67.21 L214.64 67.13 L214.96 66.98 L215.27 66.74 L215.59 66.36 L215.91 65.81 L216.22 65.05 L216.54 64.04 L216.86 62.75 L217.17 61.16 L217.49 59.24 L217.81 56.99 L218.12 54.39 L218.44 51.46 L218.76 48.23 L219.07 44.74 L219.39 41.03 L219.7 37.21 L220.02 33.35 L220.34 29.6 L220.65 26.08 L220.97 22.97 L221.29 20.46 L221.6 18.79 L221.92 18.48 L222.24 19.23 L222.55 20.49 L222.87 22.15 L223.19 24.11 L223.5 26.33 L223.82 28.72 L224.14 31.26 L224.45 33.88 L224.77 36.55 L225.09 39.22 L225.4 41.86 L225.72 44.45 L226.03 46.95 L226.35 49.36 L226.67 51.65 L226.98 53.82 L227.3 55.85 L227.62 57.74 L227.93 59.49 L228.25 61.09 L228.57 62.56 L228.88 63.9 L229.2 65.1" fill="none" stroke="#c6a263" stroke-width="1.3" stroke-linejoin="round"/>
<path d="M165.9 73.4 L166.22 73.4 L166.53 73.4 L166.85 73.4 L167.17 73.4 L167.48 73.4 L167.8 73.4 L168.12 73.4 L168.43 73.4 L168.75 73.4 L169.06 73.4 L169.38 73.4 L169.7 73.4 L170.01 73.4 L170.33 73.4 L170.65 73.4 L170.96 73.4 L171.28 73.4 L171.6 73.4 L171.91 73.4 L172.23 73.4 L172.55 73.4 L172.86 73.4 L173.18 73.4 L173.5 73.4 L173.81 73.4 L174.13 73.4 L174.45 73.4 L174.76 73.4 L175.08 73.4 L175.4 73.4 L175.71 73.4 L176.03 73.4 L176.34 73.4 L176.66 73.4 L176.98 73.4 L177.29 73.4 L177.61 73.4 L177.93 73.4 L178.24 73.4 L178.56 73.4 L178.88 73.4 L179.19 73.4 L179.51 73.4 L179.83 73.4 L180.14 73.4 L180.46 73.4 L180.78 73.4 L181.09 73.4 L181.41 73.4 L181.72 73.4 L182.04 73.4 L182.36 73.4 L182.67 73.4 L182.99 73.4 L183.31 73.4 L183.62 73.4 L183.94 73.4 L184.26 73.4 L184.57 73.4 L184.89 73.4 L185.21 73.4 L185.52 73.4 L185.84 73.4 L186.16 73.4 L186.47 73.4 L186.79 73.4 L187.11 73.4 L187.42 73.4 L187.74 73.4 L188.06 73.4 L188.37 73.4 L188.69 73.4 L189 73.4 L189.32 73.4 L189.64 73.4 L189.95 73.4 L190.27 73.4 L190.59 73.4 L190.9 73.4 L191.22 73.4 L191.54 73.4 L191.85 73.4 L192.17 73.4 L192.49 73.4 L192.8 73.4 L193.12 73.4 L193.44 73.4 L193.75 73.4 L194.07 73.4 L194.38 73.4 L194.7 73.4 L195.02 73.4 L195.33 73.4 L195.65 73.4 L195.97 73.4 L196.28 73.4 L196.6 73.4 L196.92 73.4 L197.23 73.39 L197.55 73.39 L197.87 73.39 L198.18 73.39 L198.5 73.38 L198.82 73.38 L199.13 73.37 L199.45 73.37 L199.77 73.36 L200.08 73.35 L200.4 73.33 L200.72 73.32 L201.03 73.3 L201.35 73.27 L201.66 73.24 L201.98 73.21 L202.3 73.17 L202.61 73.12 L202.93 73.07 L203.25 73.01 L203.56 72.93 L203.88 72.85 L204.2 72.76 L204.51 72.65 L204.83 72.54 L205.15 72.41 L205.46 72.26 L205.78 72.1 L206.1 71.93 L206.41 71.75 L206.73 71.55 L207.04 71.34 L207.36 71.12 L207.68 70.89 L207.99 70.65 L208.31 70.41 L208.63 70.16 L208.94 69.91 L209.26 69.67 L209.58 69.42 L209.89 69.19 L210.21 68.96 L210.53 68.75 L210.84 68.55 L211.16 68.37 L211.48 68.21 L211.79 68.08 L212.11 67.96 L212.43 67.86 L212.74 67.79 L213.06 67.73 L213.38 67.72 L213.69 67.76 L214.01 67.85 L214.32 67.95 L214.64 68.06 L214.96 68.14 L215.27 68.15 L215.59 68.07 L215.91 67.85 L216.22 67.46 L216.54 66.85 L216.86 65.99 L217.17 64.85 L217.49 63.38 L217.81 61.55 L218.12 59.36 L218.44 56.77 L218.76 53.81 L219.07 50.47 L219.39 46.8 L219.7 42.85 L220.02 38.72 L220.34 34.5 L220.65 30.35 L220.97 26.43 L221.29 22.95 L221.6 20.14 L221.92 18.3 L222.24 18.02 L222.55 18.88 L222.87 20.28 L223.19 22.11 L223.5 24.27 L223.82 26.68 L224.14 29.28 L224.45 32.01 L224.77 34.82 L225.09 37.66 L225.4 40.48 L225.72 43.25 L226.03 45.94 L226.35 48.52 L226.67 50.99 L226.98 53.31 L227.3 55.48 L227.62 57.5 L227.93 59.36 L228.25 61.06 L228.57 62.6 L228.88 64 L229.2 65.25" fill="none" stroke="#7a3858" stroke-width="1.3" stroke-linejoin="round"/>
</g>
<line x1="165.9" y1="10.8" x2="229.2" y2="10.8" stroke="#bdbdbd" stroke-width="1"/>
<line x1="229.2" y1="10.8" x2="229.2" y2="74" stroke="#c4c4c4" stroke-width="1"/>
<line x1="165.9" y1="74" x2="229.2" y2="74" stroke="#6a6a6a" stroke-width="1"/>
<line x1="165.9" y1="10.8" x2="165.9" y2="74" stroke="#8a8a8a" stroke-width="1"/>
<line x1="164.4" y1="15.8" x2="165.9" y2="15.8" stroke="#999" stroke-width="0.6"/>
<line x1="164.4" y1="27.3" x2="165.9" y2="27.3" stroke="#999" stroke-width="0.6"/>
<line x1="164.4" y1="38.8" x2="165.9" y2="38.8" stroke="#999" stroke-width="0.6"/>
<line x1="164.4" y1="50.3" x2="165.9" y2="50.3" stroke="#999" stroke-width="0.6"/>
<line x1="164.4" y1="61.8" x2="165.9" y2="61.8" stroke="#999" stroke-width="0.6"/>
<line x1="164.4" y1="73.3" x2="165.9" y2="73.3" stroke="#999" stroke-width="0.6"/>
</g>
<g>
<clipPath id="c3"><rect x="238.8" y="10.8" width="63.3" height="63.2"/></clipPath>
<g clip-path="url(#c3)">
<path d="M238.8 74 L238.8 54.89 L239.12 53.19 L239.43 51.45 L239.75 49.78 L240.07 48.25 L240.38 46.94 L240.7 45.87 L241.02 45.05 L241.33 44.41 L241.65 43.9 L241.97 43.45 L242.28 43 L242.6 42.56 L242.91 42.11 L243.23 41.7 L243.55 41.39 L243.86 41.32 L244.18 41.76 L244.5 42.44 L244.81 43.3 L245.13 44.3 L245.45 45.41 L245.76 46.6 L246.08 47.86 L246.4 49.15 L246.71 50.48 L247.03 51.81 L247.35 53.14 L247.66 54.45 L247.98 55.74 L248.3 56.99 L248.61 58.2 L248.93 59.37 L249.24 60.49 L249.56 61.55 L249.88 62.56 L250.19 63.5 L250.51 64.4 L250.83 65.23 L251.14 66 L251.46 66.72 L251.78 67.39 L252.09 68 L252.41 68.56 L252.73 69.08 L253.04 69.54 L253.36 69.97 L253.68 70.36 L253.99 70.71 L254.31 71.02 L254.62 71.3 L254.94 71.56 L255.26 71.78 L255.57 71.98 L255.89 72.16 L256.21 72.32 L256.52 72.46 L256.84 72.59 L257.16 72.69 L257.47 72.79 L257.79 72.87 L258.11 72.95 L258.42 73.01 L258.74 73.07 L259.06 73.11 L259.37 73.16 L259.69 73.19 L260.01 73.22 L260.32 73.25 L260.64 73.27 L260.96 73.29 L261.27 73.31 L261.59 73.32 L261.9 73.34 L262.22 73.35 L262.54 73.35 L262.85 73.36 L263.17 73.37 L263.49 73.37 L263.8 73.38 L264.12 73.38 L264.44 73.38 L264.75 73.39 L265.07 73.39 L265.39 73.39 L265.7 73.39 L266.02 73.39 L266.34 73.4 L266.65 73.4 L266.97 73.4 L267.29 73.4 L267.6 73.4 L267.92 73.4 L268.23 73.4 L268.55 73.4 L268.87 73.4 L269.18 73.4 L269.5 73.4 L269.82 73.4 L270.13 73.4 L270.45 73.4 L270.77 73.4 L271.08 73.4 L271.4 73.4 L271.72 73.4 L272.03 73.4 L272.35 73.4 L272.67 73.4 L272.98 73.4 L273.3 73.4 L273.62 73.4 L273.93 73.4 L274.25 73.4 L274.56 73.4 L274.88 73.4 L275.2 73.4 L275.51 73.4 L275.83 73.4 L276.15 73.4 L276.46 73.4 L276.78 73.4 L277.1 73.4 L277.41 73.4 L277.73 73.4 L278.05 73.4 L278.36 73.4 L278.68 73.4 L279 73.4 L279.31 73.4 L279.63 73.4 L279.95 73.4 L280.26 73.4 L280.58 73.4 L280.89 73.4 L281.21 73.4 L281.53 73.4 L281.84 73.4 L282.16 73.4 L282.48 73.4 L282.79 73.4 L283.11 73.4 L283.43 73.4 L283.74 73.4 L284.06 73.4 L284.38 73.4 L284.69 73.4 L285.01 73.4 L285.33 73.4 L285.64 73.4 L285.96 73.4 L286.28 73.4 L286.59 73.4 L286.91 73.4 L287.22 73.4 L287.54 73.4 L287.86 73.4 L288.17 73.4 L288.49 73.4 L288.81 73.4 L289.12 73.4 L289.44 73.4 L289.76 73.4 L290.07 73.4 L290.39 73.4 L290.71 73.4 L291.02 73.4 L291.34 73.4 L291.66 73.4 L291.97 73.4 L292.29 73.4 L292.61 73.4 L292.92 73.4 L293.24 73.4 L293.55 73.4 L293.87 73.4 L294.19 73.4 L294.5 73.4 L294.82 73.4 L295.14 73.4 L295.45 73.4 L295.77 73.4 L296.09 73.4 L296.4 73.4 L296.72 73.4 L297.04 73.4 L297.35 73.4 L297.67 73.4 L297.99 73.4 L298.3 73.4 L298.62 73.4 L298.94 73.4 L299.25 73.4 L299.57 73.4 L299.88 73.4 L300.2 73.4 L300.52 73.4 L300.83 73.4 L301.15 73.4 L301.47 73.4 L301.78 73.4 L302.1 73.4 L302.1 74 Z" fill="#cacaca" stroke="#505050" stroke-width="0.9"/>
<path d="M238.8 73.4 L239.12 73.4 L239.43 73.4 L239.75 73.4 L240.07 73.4 L240.38 73.4 L240.7 73.4 L241.02 73.4 L241.33 73.4 L241.65 73.4 L241.97 73.4 L242.28 73.4 L242.6 73.4 L242.91 73.4 L243.23 73.4 L243.55 73.4 L243.86 73.4 L244.18 73.4 L244.5 73.4 L244.81 73.4 L245.13 73.4 L245.45 73.4 L245.76 73.4 L246.08 73.4 L246.4 73.4 L246.71 73.4 L247.03 73.4 L247.35 73.4 L247.66 73.4 L247.98 73.4 L248.3 73.4 L248.61 73.4 L248.93 73.4 L249.24 73.4 L249.56 73.4 L249.88 73.4 L250.19 73.4 L250.51 73.4 L250.83 73.4 L251.14 73.4 L251.46 73.4 L251.78 73.4 L252.09 73.4 L252.41 73.4 L252.73 73.4 L253.04 73.4 L253.36 73.4 L253.68 73.4 L253.99 73.4 L254.31 73.4 L254.62 73.4 L254.94 73.4 L255.26 73.4 L255.57 73.4 L255.89 73.4 L256.21 73.4 L256.52 73.4 L256.84 73.4 L257.16 73.4 L257.47 73.4 L257.79 73.4 L258.11 73.4 L258.42 73.4 L258.74 73.4 L259.06 73.4 L259.37 73.4 L259.69 73.4 L260.01 73.4 L260.32 73.4 L260.64 73.4 L260.96 73.4 L261.27 73.4 L261.59 73.4 L261.9 73.4 L262.22 73.4 L262.54 73.4 L262.85 73.4 L263.17 73.4 L263.49 73.4 L263.8 73.4 L264.12 73.4 L264.44 73.4 L264.75 73.4 L265.07 73.4 L265.39 73.4 L265.7 73.4 L266.02 73.4 L266.34 73.4 L266.65 73.4 L266.97 73.4 L267.29 73.4 L267.6 73.4 L267.92 73.4 L268.23 73.4 L268.55 73.4 L268.87 73.4 L269.18 73.4 L269.5 73.4 L269.82 73.4 L270.13 73.4 L270.45 73.4 L270.77 73.4 L271.08 73.4 L271.4 73.4 L271.72 73.4 L272.03 73.4 L272.35 73.4 L272.67 73.4 L272.98 73.4 L273.3 73.4 L273.62 73.4 L273.93 73.4 L274.25 73.4 L274.56 73.4 L274.88 73.4 L275.2 73.4 L275.51 73.4 L275.83 73.4 L276.15 73.4 L276.46 73.4 L276.78 73.4 L277.1 73.4 L277.41 73.4 L277.73 73.4 L278.05 73.4 L278.36 73.4 L278.68 73.4 L279 73.4 L279.31 73.4 L279.63 73.4 L279.95 73.4 L280.26 73.4 L280.58 73.4 L280.89 73.4 L281.21 73.4 L281.53 73.4 L281.84 73.4 L282.16 73.4 L282.48 73.4 L282.79 73.4 L283.11 73.4 L283.43 73.4 L283.74 73.4 L284.06 73.4 L284.38 73.4 L284.69 73.4 L285.01 73.4 L285.33 73.4 L285.64 73.4 L285.96 73.4 L286.28 73.4 L286.59 73.4 L286.91 73.4 L287.22 73.4 L287.54 73.4 L287.86 73.39 L288.17 73.38 L288.49 73.37 L288.81 73.34 L289.12 73.29 L289.44 73.2 L289.76 73.05 L290.07 72.82 L290.39 72.46 L290.71 71.94 L291.02 71.21 L291.34 70.21 L291.66 68.9 L291.97 67.27 L292.29 65.31 L292.61 63.08 L292.92 60.63 L293.24 58.09 L293.55 55.58 L293.87 53.24 L294.19 51.17 L294.5 49.44 L294.82 48.05 L295.14 46.95 L295.45 46.02 L295.77 45.08 L296.09 43.97 L296.4 42.51 L296.72 40.57 L297.04 38.08 L297.35 35.07 L297.67 31.63 L297.99 27.95 L298.3 24.27 L298.62 20.94 L298.94 18.34 L299.25 17.01 L299.57 20.09 L299.88 27.58 L300.2 36.73 L300.52 45.83 L300.83 53.82 L301.15 60.22 L301.47 64.96 L301.78 68.25 L302.1 70.4" fill="none" stroke="#2a2aa8" stroke-width="1.3" stroke-linejoin="round"/>
<path d="M238.8 73.4 L239.12 73.4 L239.43 73.4 L239.75 73.4 L240.07 73.4 L240.38 73.4 L240.7 73.4 L241.02 73.4 L241.33 73.4 L241.65 73.4 L241.97 73.4 L242.28 73.4 L242.6 73.4 L242.91 73.4 L243.23 73.4 L243.55 73.4 L243.86 73.4 L244.18 73.4 L244.5 73.4 L244.81 73.4 L245.13 73.4 L245.45 73.4 L245.76 73.4 L246.08 73.4 L246.4 73.4 L246.71 73.4 L247.03 73.4 L247.35 73.4 L247.66 73.4 L247.98 73.4 L248.3 73.4 L248.61 73.4 L248.93 73.4 L249.24 73.4 L249.56 73.4 L249.88 73.4 L250.19 73.4 L250.51 73.4 L250.83 73.4 L251.14 73.4 L251.46 73.4 L251.78 73.4 L252.09 73.4 L252.41 73.4 L252.73 73.4 L253.04 73.4 L253.36 73.4 L253.68 73.4 L253.99 73.4 L254.31 73.4 L254.62 73.4 L254.94 73.4 L255.26 73.4 L255.57 73.4 L255.89 73.4 L256.21 73.4 L256.52 73.4 L256.84 73.4 L257.16 73.4 L257.47 73.4 L257.79 73.4 L258.11 73.4 L258.42 73.4 L258.74 73.4 L259.06 73.4 L259.37 73.4 L259.69 73.4 L260.01 73.4 L260.32 73.4 L260.64 73.4 L260.96 73.4 L261.27 73.4 L261.59 73.4 L261.9 73.4 L262.22 73.4 L262.54 73.4 L262.85 73.4 L263.17 73.4 L263.49 73.4 L263.8 73.4 L264.12 73.4 L264.44 73.4 L264.75 73.4 L265.07 73.4 L265.39 73.4 L265.7 73.4 L266.02 73.4 L266.34 73.4 L266.65 73.4 L266.97 73.4 L267.29 73.4 L267.6 73.4 L267.92 73.4 L268.23 73.4 L268.55 73.4 L268.87 73.4 L269.18 73.4 L269.5 73.4 L269.82 73.4 L270.13 73.4 L270.45 73.4 L270.77 73.4 L271.08 73.4 L271.4 73.4 L271.72 73.4 L272.03 73.4 L272.35 73.4 L272.67 73.4 L272.98 73.4 L273.3 73.4 L273.62 73.4 L273.93 73.4 L274.25 73.4 L274.56 73.4 L274.88 73.4 L275.2 73.4 L275.51 73.4 L275.83 73.4 L276.15 73.4 L276.46 73.4 L276.78 73.4 L277.1 73.4 L277.41 73.4 L277.73 73.4 L278.05 73.4 L278.36 73.4 L278.68 73.4 L279 73.4 L279.31 73.4 L279.63 73.4 L279.95 73.4 L280.26 73.4 L280.58 73.4 L280.89 73.4 L281.21 73.4 L281.53 73.4 L281.84 73.4 L282.16 73.4 L282.48 73.4 L282.79 73.4 L283.11 73.4 L283.43 73.4 L283.74 73.4 L284.06 73.4 L284.38 73.4 L284.69 73.4 L285.01 73.4 L285.33 73.39 L285.64 73.39 L285.96 73.38 L286.28 73.36 L286.59 73.33 L286.91 73.28 L287.22 73.2 L287.54 73.08 L287.86 72.91 L288.17 72.64 L288.49 72.27 L288.81 71.76 L289.12 71.06 L289.44 70.15 L289.76 68.98 L290.07 67.53 L290.39 65.79 L290.71 63.76 L291.02 61.45 L291.34 58.93 L291.66 56.26 L291.97 53.53 L292.29 50.84 L292.61 48.3 L292.92 45.99 L293.24 43.99 L293.55 42.33 L293.87 41.09 L294.19 40.39 L294.5 40.08 L294.82 39.96 L295.14 39.81 L295.45 39.42 L295.77 38.6 L296.09 37.25 L296.4 35.33 L296.72 32.89 L297.04 30.05 L297.35 26.98 L297.67 23.91 L297.99 21.13 L298.3 18.92 L298.62 17.69 L298.94 19.78 L299.25 26.07 L299.57 34.19 L299.88 42.66 L300.2 50.48 L300.52 57.09 L300.83 62.3 L301.15 66.15 L301.47 68.86 L301.78 70.66 L302.1 71.81" fill="none" stroke="#c6a263" stroke-width="1.3" stroke-linejoin="round"/>
<path d="M238.8 73.4 L239.12 73.4 L239.43 73.4 L239.75 73.4 L240.07 73.4 L240.38 73.4 L240.7 73.4 L241.02 73.4 L241.33 73.4 L241.65 73.4 L241.97 73.4 L242.28 73.4 L242.6 73.4 L242.91 73.4 L243.23 73.4 L243.55 73.4 L243.86 73.4 L244.18 73.4 L244.5 73.4 L244.81 73.4 L245.13 73.4 L245.45 73.4 L245.76 73.4 L246.08 73.4 L246.4 73.4 L246.71 73.4 L247.03 73.4 L247.35 73.4 L247.66 73.4 L247.98 73.4 L248.3 73.4 L248.61 73.4 L248.93 73.4 L249.24 73.4 L249.56 73.4 L249.88 73.4 L250.19 73.4 L250.51 73.4 L250.83 73.4 L251.14 73.4 L251.46 73.4 L251.78 73.4 L252.09 73.4 L252.41 73.4 L252.73 73.4 L253.04 73.4 L253.36 73.4 L253.68 73.4 L253.99 73.4 L254.31 73.4 L254.62 73.4 L254.94 73.4 L255.26 73.4 L255.57 73.4 L255.89 73.4 L256.21 73.4 L256.52 73.4 L256.84 73.4 L257.16 73.4 L257.47 73.4 L257.79 73.4 L258.11 73.4 L258.42 73.4 L258.74 73.4 L259.06 73.4 L259.37 73.4 L259.69 73.4 L260.01 73.4 L260.32 73.4 L260.64 73.4 L260.96 73.4 L261.27 73.4 L261.59 73.4 L261.9 73.4 L262.22 73.4 L262.54 73.4 L262.85 73.4 L263.17 73.4 L263.49 73.4 L263.8 73.4 L264.12 73.4 L264.44 73.4 L264.75 73.4 L265.07 73.4 L265.39 73.4 L265.7 73.4 L266.02 73.4 L266.34 73.4 L266.65 73.4 L266.97 73.4 L267.29 73.4 L267.6 73.4 L267.92 73.4 L268.23 73.4 L268.55 73.4 L268.87 73.4 L269.18 73.4 L269.5 73.4 L269.82 73.4 L270.13 73.4 L270.45 73.4 L270.77 73.4 L271.08 73.4 L271.4 73.4 L271.72 73.4 L272.03 73.4 L272.35 73.4 L272.67 73.4 L272.98 73.4 L273.3 73.4 L273.62 73.4 L273.93 73.4 L274.25 73.4 L274.56 73.4 L274.88 73.4 L275.2 73.4 L275.51 73.4 L275.83 73.4 L276.15 73.4 L276.46 73.4 L276.78 73.4 L277.1 73.4 L277.41 73.4 L277.73 73.4 L278.05 73.4 L278.36 73.4 L278.68 73.4 L279 73.4 L279.31 73.4 L279.63 73.4 L279.95 73.4 L280.26 73.4 L280.58 73.4 L280.89 73.4 L281.21 73.4 L281.53 73.4 L281.84 73.4 L282.16 73.4 L282.48 73.4 L282.79 73.4 L283.11 73.4 L283.43 73.4 L283.74 73.4 L284.06 73.4 L284.38 73.4 L284.69 73.4 L285.01 73.4 L285.33 73.4 L285.64 73.4 L285.96 73.4 L286.28 73.4 L286.59 73.39 L286.91 73.39 L287.22 73.38 L287.54 73.36 L287.86 73.34 L288.17 73.29 L288.49 73.21 L288.81 73.08 L289.12 72.88 L289.44 72.58 L289.76 72.14 L290.07 71.53 L290.39 70.7 L290.71 69.6 L291.02 68.19 L291.34 66.47 L291.66 64.41 L291.97 62.07 L292.29 59.48 L292.61 56.74 L292.92 53.96 L293.24 51.26 L293.55 48.75 L293.87 46.53 L294.19 44.66 L294.5 43.16 L294.82 42.09 L295.14 41.33 L295.45 40.69 L295.77 39.98 L296.09 38.99 L296.4 37.58 L296.72 35.66 L297.04 33.21 L297.35 30.32 L297.67 27.15 L297.99 23.94 L298.3 20.98 L298.62 18.65 L298.94 17.43 L299.25 19.88 L299.57 26.37 L299.88 34.58 L300.2 43.06 L300.52 50.84 L300.83 57.39 L301.15 62.53 L301.47 66.32 L301.78 68.97 L302.1 70.73" fill="none" stroke="#7a3858" stroke-width="1.3" stroke-linejoin="round"/>
</g>
<line x1="238.8" y1="10.8" x2="302.1" y2="10.8" stroke="#bdbdbd" stroke-width="1"/>
<line x1="302.1" y1="10.8" x2="302.1" y2="74" stroke="#c4c4c4" stroke-width="1"/>
<line x1="238.8" y1="74" x2="302.1" y2="74" stroke="#6a6a6a" stroke-width="1"/>
<line x1="238.8" y1="10.8" x2="238.8" y2="74" stroke="#8a8a8a" stroke-width="1"/>
<line x1="237.3" y1="15.8" x2="238.8" y2="15.8" stroke="#999" stroke-width="0.6"/>
<line x1="237.3" y1="27.3" x2="238.8" y2="27.3" stroke="#999" stroke-width="0.6"/>
<line x1="237.3" y1="38.8" x2="238.8" y2="38.8" stroke="#999" stroke-width="0.6"/>
<line x1="237.3" y1="50.3" x2="238.8" y2="50.3" stroke="#999" stroke-width="0.6"/>
<line x1="237.3" y1="61.8" x2="238.8" y2="61.8" stroke="#999" stroke-width="0.6"/>
<line x1="237.3" y1="73.3" x2="238.8" y2="73.3" stroke="#999" stroke-width="0.6"/>
</g>
<g>
<clipPath id="c4"><rect x="311.7" y="10.8" width="63.3" height="63.2"/></clipPath>
<g clip-path="url(#c4)">
<path d="M311.7 74 L311.7 73.11 L312.02 73.06 L312.33 73.01 L312.65 72.94 L312.97 72.87 L313.28 72.78 L313.6 72.68 L313.92 72.57 L314.23 72.44 L314.55 72.29 L314.87 72.12 L315.18 71.92 L315.5 71.7 L315.81 71.45 L316.13 71.17 L316.45 70.84 L316.76 70.48 L317.08 70.07 L317.4 69.61 L317.71 69.09 L318.03 68.52 L318.35 67.87 L318.66 67.15 L318.98 66.36 L319.3 65.47 L319.61 64.5 L319.93 63.42 L320.25 62.24 L320.56 60.95 L320.88 59.54 L321.19 58.01 L321.51 56.35 L321.83 54.57 L322.14 52.64 L322.46 50.59 L322.78 48.41 L323.09 46.1 L323.41 43.67 L323.73 41.14 L324.04 38.52 L324.36 35.84 L324.68 33.12 L324.99 30.41 L325.31 27.75 L325.63 25.23 L325.94 22.94 L326.26 21.06 L326.58 20.39 L326.89 22.04 L327.21 24.31 L327.52 26.91 L327.84 29.69 L328.16 32.56 L328.47 35.44 L328.79 38.3 L329.11 41.08 L329.42 43.76 L329.74 46.33 L330.06 48.76 L330.37 51.05 L330.69 53.19 L331.01 55.19 L331.32 57.03 L331.64 58.73 L331.96 60.29 L332.27 61.72 L332.59 63.02 L332.91 64.19 L333.22 65.25 L333.54 66.21 L333.86 67.07 L334.17 67.84 L334.49 68.52 L334.8 69.13 L335.12 69.67 L335.44 70.15 L335.75 70.57 L336.07 70.95 L336.39 71.28 L336.7 71.56 L337.02 71.81 L337.34 72.03 L337.65 72.22 L337.97 72.39 L338.29 72.53 L338.6 72.66 L338.92 72.77 L339.24 72.86 L339.55 72.94 L339.87 73.01 L340.19 73.07 L340.5 73.12 L340.82 73.16 L341.13 73.2 L341.45 73.23 L341.77 73.26 L342.08 73.28 L342.4 73.3 L342.72 73.31 L343.03 73.33 L343.35 73.34 L343.67 73.35 L343.98 73.36 L344.3 73.37 L344.62 73.37 L344.93 73.38 L345.25 73.38 L345.57 73.38 L345.88 73.39 L346.2 73.39 L346.51 73.39 L346.83 73.39 L347.15 73.39 L347.46 73.39 L347.78 73.4 L348.1 73.4 L348.41 73.4 L348.73 73.4 L349.05 73.4 L349.36 73.4 L349.68 73.4 L350 73.4 L350.31 73.4 L350.63 73.4 L350.95 73.4 L351.26 73.4 L351.58 73.4 L351.9 73.4 L352.21 73.4 L352.53 73.4 L352.85 73.4 L353.16 73.4 L353.48 73.4 L353.79 73.4 L354.11 73.4 L354.43 73.4 L354.74 73.4 L355.06 73.4 L355.38 73.4 L355.69 73.4 L356.01 73.4 L356.33 73.4 L356.64 73.4 L356.96 73.4 L357.28 73.4 L357.59 73.4 L357.91 73.4 L358.23 73.4 L358.54 73.4 L358.86 73.4 L359.18 73.4 L359.49 73.4 L359.81 73.4 L360.12 73.4 L360.44 73.4 L360.76 73.4 L361.07 73.4 L361.39 73.4 L361.71 73.4 L362.02 73.4 L362.34 73.4 L362.66 73.4 L362.97 73.4 L363.29 73.4 L363.61 73.4 L363.92 73.4 L364.24 73.4 L364.56 73.4 L364.87 73.4 L365.19 73.4 L365.5 73.4 L365.82 73.4 L366.14 73.4 L366.45 73.4 L366.77 73.4 L367.09 73.4 L367.4 73.4 L367.72 73.4 L368.04 73.4 L368.35 73.4 L368.67 73.4 L368.99 73.4 L369.3 73.4 L369.62 73.4 L369.94 73.4 L370.25 73.4 L370.57 73.4 L370.89 73.4 L371.2 73.4 L371.52 73.4 L371.83 73.4 L372.15 73.4 L372.47 73.4 L372.78 73.4 L373.1 73.4 L373.42 73.4 L373.73 73.4 L374.05 73.4 L374.37 73.4 L374.68 73.4 L375 73.4 L375 74 Z" fill="#cacaca" stroke="#505050" stroke-width="0.9"/>
<path d="M311.7 73.4 L312.02 73.4 L312.33 73.4 L312.65 73.4 L312.97 73.4 L313.28 73.4 L313.6 73.4 L313.92 73.4 L314.23 73.4 L314.55 73.4 L314.87 73.4 L315.18 73.4 L315.5 73.4 L315.81 73.4 L316.13 73.4 L316.45 73.4 L316.76 73.4 L317.08 73.4 L317.4 73.4 L317.71 73.4 L318.03 73.4 L318.35 73.4 L318.66 73.4 L318.98 73.4 L319.3 73.4 L319.61 73.4 L319.93 73.4 L320.25 73.4 L320.56 73.4 L320.88 73.4 L321.19 73.4 L321.51 73.4 L321.83 73.4 L322.14 73.4 L322.46 73.4 L322.78 73.4 L323.09 73.4 L323.41 73.4 L323.73 73.4 L324.04 73.4 L324.36 73.4 L324.68 73.4 L324.99 73.4 L325.31 73.4 L325.63 73.4 L325.94 73.4 L326.26 73.4 L326.58 73.4 L326.89 73.4 L327.21 73.4 L327.52 73.4 L327.84 73.4 L328.16 73.4 L328.47 73.4 L328.79 73.4 L329.11 73.4 L329.42 73.4 L329.74 73.39 L330.06 73.39 L330.37 73.39 L330.69 73.38 L331.01 73.37 L331.32 73.35 L331.64 73.33 L331.96 73.3 L332.27 73.25 L332.59 73.19 L332.91 73.1 L333.22 72.98 L333.54 72.81 L333.86 72.59 L334.17 72.29 L334.49 71.9 L334.8 71.39 L335.12 70.73 L335.44 69.9 L335.75 68.85 L336.07 67.54 L336.39 65.95 L336.7 64.01 L337.02 61.71 L337.34 59.01 L337.65 55.89 L337.97 52.34 L338.29 48.38 L338.6 44.04 L338.92 39.41 L339.24 34.58 L339.55 29.68 L339.87 24.9 L340.19 20.45 L340.5 16.59 L340.82 13.62 L341.13 11.99 L341.45 12.6 L341.77 14.66 L342.08 17.62 L342.4 21.21 L342.72 25.24 L343.03 29.51 L343.35 33.88 L343.67 38.22 L343.98 42.43 L344.3 46.41 L344.62 50.13 L344.93 53.53 L345.25 56.59 L345.57 59.32 L345.88 61.71 L346.2 63.79 L346.51 65.56 L346.83 67.07 L347.15 68.32 L347.46 69.37 L347.78 70.22 L348.1 70.92 L348.41 71.47 L348.73 71.92 L349.05 72.27 L349.36 72.54 L349.68 72.76 L350 72.92 L350.31 73.04 L350.63 73.14 L350.95 73.21 L351.26 73.26 L351.58 73.3 L351.9 73.33 L352.21 73.35 L352.53 73.36 L352.85 73.38 L353.16 73.38 L353.48 73.39 L353.79 73.39 L354.11 73.39 L354.43 73.4 L354.74 73.4 L355.06 73.4 L355.38 73.4 L355.69 73.4 L356.01 73.4 L356.33 73.4 L356.64 73.4 L356.96 73.4 L357.28 73.4 L357.59 73.4 L357.91 73.4 L358.23 73.4 L358.54 73.4 L358.86 73.4 L359.18 73.4 L359.49 73.4 L359.81 73.4 L360.12 73.4 L360.44 73.4 L360.76 73.4 L361.07 73.4 L361.39 73.4 L361.71 73.4 L362.02 73.4 L362.34 73.4 L362.66 73.4 L362.97 73.4 L363.29 73.4 L363.61 73.4 L363.92 73.4 L364.24 73.4 L364.56 73.4 L364.87 73.4 L365.19 73.4 L365.5 73.4 L365.82 73.4 L366.14 73.4 L366.45 73.4 L366.77 73.4 L367.09 73.4 L367.4 73.4 L367.72 73.4 L368.04 73.4 L368.35 73.4 L368.67 73.4 L368.99 73.4 L369.3 73.4 L369.62 73.4 L369.94 73.4 L370.25 73.4 L370.57 73.4 L370.89 73.4 L371.2 73.4 L371.52 73.4 L371.83 73.4 L372.15 73.4 L372.47 73.4 L372.78 73.4 L373.1 73.4 L373.42 73.4 L373.73 73.4 L374.05 73.4 L374.37 73.4 L374.68 73.4 L375 73.4" fill="none" stroke="#8edc6a" stroke-width="1.3" stroke-linejoin="round"/>
<path d="M311.7 73.4 L312.02 73.4 L312.33 73.4 L312.65 73.4 L312.97 73.4 L313.28 73.4 L313.6 73.4 L313.92 73.4 L314.23 73.4 L314.55 73.4 L314.87 73.4 L315.18 73.4 L315.5 73.4 L315.81 73.4 L316.13 73.4 L316.45 73.4 L316.76 73.4 L317.08 73.4 L317.4 73.4 L317.71 73.4 L318.03 73.4 L318.35 73.4 L318.66 73.4 L318.98 73.4 L319.3 73.4 L319.61 73.39 L319.93 73.39 L320.25 73.39 L320.56 73.38 L320.88 73.38 L321.19 73.37 L321.51 73.35 L321.83 73.34 L322.14 73.31 L322.46 73.28 L322.78 73.25 L323.09 73.2 L323.41 73.14 L323.73 73.06 L324.04 72.97 L324.36 72.87 L324.68 72.74 L324.99 72.59 L325.31 72.42 L325.63 72.23 L325.94 72.01 L326.26 71.77 L326.58 71.52 L326.89 71.25 L327.21 70.96 L327.52 70.67 L327.84 70.38 L328.16 70.1 L328.47 69.83 L328.79 69.58 L329.11 69.36 L329.42 69.18 L329.74 69.03 L330.06 68.93 L330.37 68.88 L330.69 68.88 L331.01 68.94 L331.32 69.06 L331.64 69.23 L331.96 69.43 L332.27 69.66 L332.59 69.9 L332.91 70.12 L333.22 70.31 L333.54 70.45 L333.86 70.51 L334.17 70.46 L334.49 70.29 L334.8 69.97 L335.12 69.47 L335.44 68.77 L335.75 67.82 L336.07 66.6 L336.39 65.09 L336.7 63.24 L337.02 61.05 L337.34 58.48 L337.65 55.52 L337.97 52.2 L338.29 48.52 L338.6 44.53 L338.92 40.31 L339.24 35.93 L339.55 31.53 L339.87 27.27 L340.19 23.32 L340.5 19.92 L340.82 17.31 L341.13 15.88 L341.45 16.38 L341.77 18.11 L342.08 20.59 L342.4 23.63 L342.72 27.06 L343.03 30.73 L343.35 34.53 L343.67 38.35 L343.98 42.1 L344.3 45.71 L344.62 49.13 L344.93 52.31 L345.25 55.23 L345.57 57.88 L345.88 60.25 L346.2 62.35 L346.51 64.18 L346.83 65.77 L347.15 67.13 L347.46 68.29 L347.78 69.27 L348.1 70.08 L348.41 70.75 L348.73 71.3 L349.05 71.75 L349.36 72.11 L349.68 72.4 L350 72.63 L350.31 72.81 L350.63 72.95 L350.95 73.06 L351.26 73.15 L351.58 73.21 L351.9 73.26 L352.21 73.3 L352.53 73.32 L352.85 73.34 L353.16 73.36 L353.48 73.37 L353.79 73.38 L354.11 73.39 L354.43 73.39 L354.74 73.39 L355.06 73.39 L355.38 73.4 L355.69 73.4 L356.01 73.4 L356.33 73.4 L356.64 73.4 L356.96 73.4 L357.28 73.4 L357.59 73.4 L357.91 73.4 L358.23 73.4 L358.54 73.4 L358.86 73.4 L359.18 73.4 L359.49 73.4 L359.81 73.4 L360.12 73.4 L360.44 73.4 L360.76 73.4 L361.07 73.4 L361.39 73.4 L361.71 73.4 L362.02 73.4 L362.34 73.4 L362.66 73.4 L362.97 73.4 L363.29 73.4 L363.61 73.4 L363.92 73.4 L364.24 73.4 L364.56 73.4 L364.87 73.4 L365.19 73.4 L365.5 73.4 L365.82 73.4 L366.14 73.4 L366.45 73.4 L366.77 73.4 L367.09 73.4 L367.4 73.4 L367.72 73.4 L368.04 73.4 L368.35 73.4 L368.67 73.4 L368.99 73.4 L369.3 73.4 L369.62 73.4 L369.94 73.4 L370.25 73.4 L370.57 73.4 L370.89 73.4 L371.2 73.4 L371.52 73.4 L371.83 73.4 L372.15 73.4 L372.47 73.4 L372.78 73.4 L373.1 73.4 L373.42 73.4 L373.73 73.4 L374.05 73.4 L374.37 73.4 L374.68 73.4 L375 73.4" fill="none" stroke="#c6a263" stroke-width="1.3" stroke-linejoin="round"/>
<path d="M311.7 73.4 L312.02 73.4 L312.33 73.4 L312.65 73.4 L312.97 73.4 L313.28 73.4 L313.6 73.4 L313.92 73.4 L314.23 73.4 L314.55 73.4 L314.87 73.4 L315.18 73.4 L315.5 73.4 L315.81 73.4 L316.13 73.4 L316.45 73.4 L316.76 73.4 L317.08 73.4 L317.4 73.4 L317.71 73.4 L318.03 73.4 L318.35 73.4 L318.66 73.4 L318.98 73.4 L319.3 73.4 L319.61 73.39 L319.93 73.39 L320.25 73.39 L320.56 73.38 L320.88 73.38 L321.19 73.37 L321.51 73.35 L321.83 73.34 L322.14 73.31 L322.46 73.28 L322.78 73.25 L323.09 73.2 L323.41 73.14 L323.73 73.06 L324.04 72.97 L324.36 72.87 L324.68 72.74 L324.99 72.59 L325.31 72.42 L325.63 72.23 L325.94 72.01 L326.26 71.77 L326.58 71.52 L326.89 71.24 L327.21 70.96 L327.52 70.67 L327.84 70.38 L328.16 70.1 L328.47 69.83 L328.79 69.58 L329.11 69.36 L329.42 69.17 L329.74 69.03 L330.06 68.93 L330.37 68.87 L330.69 68.87 L331.01 68.92 L331.32 69.03 L331.64 69.2 L331.96 69.39 L332.27 69.61 L332.59 69.83 L332.91 70.04 L333.22 70.21 L333.54 70.32 L333.86 70.35 L334.17 70.28 L334.49 70.08 L334.8 69.73 L335.12 69.2 L335.44 68.47 L335.75 67.51 L336.07 66.29 L336.39 64.78 L336.7 62.97 L337.02 60.83 L337.34 58.35 L337.65 55.52 L337.97 52.35 L338.29 48.86 L338.6 45.09 L338.92 41.1 L339.24 36.97 L339.55 32.81 L339.87 28.76 L340.19 24.97 L340.5 21.62 L340.82 18.95 L341.13 17.24 L341.45 17.14 L341.77 18.54 L342.08 20.76 L342.4 23.59 L342.72 26.85 L343.03 30.39 L343.35 34.09 L343.67 37.84 L343.98 41.55 L344.3 45.14 L344.62 48.56 L344.93 51.75 L345.25 54.7 L345.57 57.38 L345.88 59.79 L346.2 61.93 L346.51 63.81 L346.83 65.45 L347.15 66.85 L347.46 68.05 L347.78 69.06 L348.1 69.91 L348.41 70.61 L348.73 71.18 L349.05 71.65 L349.36 72.03 L349.68 72.34 L350 72.58 L350.31 72.77 L350.63 72.92 L350.95 73.04 L351.26 73.13 L351.58 73.2 L351.9 73.25 L352.21 73.29 L352.53 73.32 L352.85 73.34 L353.16 73.36 L353.48 73.37 L353.79 73.38 L354.11 73.38 L354.43 73.39 L354.74 73.39 L355.06 73.39 L355.38 73.4 L355.69 73.4 L356.01 73.4 L356.33 73.4 L356.64 73.4 L356.96 73.4 L357.28 73.4 L357.59 73.4 L357.91 73.4 L358.23 73.4 L358.54 73.4 L358.86 73.4 L359.18 73.4 L359.49 73.4 L359.81 73.4 L360.12 73.4 L360.44 73.4 L360.76 73.4 L361.07 73.4 L361.39 73.4 L361.71 73.4 L362.02 73.4 L362.34 73.4 L362.66 73.4 L362.97 73.4 L363.29 73.4 L363.61 73.4 L363.92 73.4 L364.24 73.4 L364.56 73.4 L364.87 73.4 L365.19 73.4 L365.5 73.4 L365.82 73.4 L366.14 73.4 L366.45 73.4 L366.77 73.4 L367.09 73.4 L367.4 73.4 L367.72 73.4 L368.04 73.4 L368.35 73.4 L368.67 73.4 L368.99 73.4 L369.3 73.4 L369.62 73.4 L369.94 73.4 L370.25 73.4 L370.57 73.4 L370.89 73.4 L371.2 73.4 L371.52 73.4 L371.83 73.4 L372.15 73.4 L372.47 73.4 L372.78 73.4 L373.1 73.4 L373.42 73.4 L373.73 73.4 L374.05 73.4 L374.37 73.4 L374.68 73.4 L375 73.4" fill="none" stroke="#7a3858" stroke-width="1.3" stroke-linejoin="round"/>
<path d="M311.7 73.4 L312.02 73.4 L312.33 73.4 L312.65 73.4 L312.97 73.4 L313.28 73.4 L313.6 73.4 L313.92 73.4 L314.23 73.4 L314.55 73.4 L314.87 73.4 L315.18 73.4 L315.5 73.4 L315.81 73.4 L316.13 73.4 L316.45 73.4 L316.76 73.4 L317.08 73.4 L317.4 73.4 L317.71 73.4 L318.03 73.4 L318.35 73.4 L318.66 73.4 L318.98 73.4 L319.3 73.4 L319.61 73.39 L319.93 73.39 L320.25 73.39 L320.56 73.38 L320.88 73.37 L321.19 73.36 L321.51 73.35 L321.83 73.33 L322.14 73.3 L322.46 73.27 L322.78 73.23 L323.09 73.17 L323.41 73.11 L323.73 73.03 L324.04 72.93 L324.36 72.81 L324.68 72.66 L324.99 72.5 L325.31 72.31 L325.63 72.09 L325.94 71.85 L326.26 71.58 L326.58 71.29 L326.89 70.98 L327.21 70.66 L327.52 70.33 L327.84 69.99 L328.16 69.66 L328.47 69.34 L328.79 69.04 L329.11 68.77 L329.42 68.52 L329.74 68.32 L330.06 68.15 L330.37 68.02 L330.69 67.93 L331.01 67.89 L331.32 67.9 L331.64 67.95 L331.96 68.01 L332.27 68.08 L332.59 68.13 L332.91 68.15 L333.22 68.1 L333.54 67.98 L333.86 67.76 L334.17 67.43 L334.49 66.97 L334.8 66.38 L335.12 65.63 L335.44 64.73 L335.75 63.67 L336.07 62.44 L336.39 61.06 L336.7 59.51 L337.02 57.81 L337.34 55.98 L337.65 54.01 L337.97 51.94 L338.29 49.79 L338.6 47.58 L338.92 45.35 L339.24 43.14 L339.55 40.99 L339.87 38.95 L340.19 37.09 L340.5 35.46 L340.82 34.15 L341.13 33.23 L341.45 32.92 L341.77 33.43 L342.08 34.39 L342.4 35.7 L342.72 37.28 L343.03 39.06 L343.35 40.99 L343.67 43.03 L343.98 45.13 L344.3 47.25 L344.62 49.37 L344.93 51.44 L345.25 53.45 L345.57 55.38 L345.88 57.22 L346.2 58.95 L346.51 60.56 L346.83 62.05 L347.15 63.42 L347.46 64.67 L347.78 65.8 L348.1 66.81 L348.41 67.72 L348.73 68.53 L349.05 69.24 L349.36 69.86 L349.68 70.41 L350 70.88 L350.31 71.28 L350.63 71.63 L350.95 71.93 L351.26 72.18 L351.58 72.4 L351.9 72.58 L352.21 72.73 L352.53 72.85 L352.85 72.96 L353.16 73.04 L353.48 73.11 L353.79 73.17 L354.11 73.22 L354.43 73.25 L354.74 73.28 L355.06 73.31 L355.38 73.33 L355.69 73.34 L356.01 73.36 L356.33 73.37 L356.64 73.37 L356.96 73.38 L357.28 73.38 L357.59 73.39 L357.91 73.39 L358.23 73.39 L358.54 73.39 L358.86 73.4 L359.18 73.4 L359.49 73.4 L359.81 73.4 L360.12 73.4 L360.44 73.4 L360.76 73.4 L361.07 73.4 L361.39 73.4 L361.71 73.4 L362.02 73.4 L362.34 73.4 L362.66 73.4 L362.97 73.4 L363.29 73.4 L363.61 73.4 L363.92 73.4 L364.24 73.4 L364.56 73.4 L364.87 73.4 L365.19 73.4 L365.5 73.4 L365.82 73.4 L366.14 73.4 L366.45 73.4 L366.77 73.4 L367.09 73.4 L367.4 73.4 L367.72 73.4 L368.04 73.4 L368.35 73.4 L368.67 73.4 L368.99 73.4 L369.3 73.4 L369.62 73.4 L369.94 73.4 L370.25 73.4 L370.57 73.4 L370.89 73.4 L371.2 73.4 L371.52 73.4 L371.83 73.4 L372.15 73.4 L372.47 73.4 L372.78 73.4 L373.1 73.4 L373.42 73.4 L373.73 73.4 L374.05 73.4 L374.37 73.4 L374.68 73.4 L375 73.4" fill="none" stroke="#2a2aa8" stroke-width="1.3" stroke-linejoin="round"/>
</g>
<line x1="311.7" y1="10.8" x2="375" y2="10.8" stroke="#bdbdbd" stroke-width="1"/>
<line x1="375" y1="10.8" x2="375" y2="74" stroke="#c4c4c4" stroke-width="1"/>
<line x1="311.7" y1="74" x2="375" y2="74" stroke="#6a6a6a" stroke-width="1"/>
<line x1="311.7" y1="10.8" x2="311.7" y2="74" stroke="#8a8a8a" stroke-width="1"/>
<line x1="310.2" y1="15.8" x2="311.7" y2="15.8" stroke="#999" stroke-width="0.6"/>
<line x1="310.2" y1="27.3" x2="311.7" y2="27.3" stroke="#999" stroke-width="0.6"/>
<line x1="310.2" y1="38.8" x2="311.7" y2="38.8" stroke="#999" stroke-width="0.6"/>
<line x1="310.2" y1="50.3" x2="311.7" y2="50.3" stroke="#999" stroke-width="0.6"/>
<line x1="310.2" y1="61.8" x2="311.7" y2="61.8" stroke="#999" stroke-width="0.6"/>
<line x1="310.2" y1="73.3" x2="311.7" y2="73.3" stroke="#999" stroke-width="0.6"/>
</g>
<g>
<clipPath id="c5"><rect x="384.6" y="10.8" width="63.3" height="63.2"/></clipPath>
<g clip-path="url(#c5)">
<path d="M384.6 74 L384.6 73.4 L384.92 73.4 L385.23 73.4 L385.55 73.4 L385.87 73.4 L386.18 73.4 L386.5 73.4 L386.82 73.4 L387.13 73.4 L387.45 73.4 L387.77 73.4 L388.08 73.4 L388.4 73.4 L388.71 73.4 L389.03 73.4 L389.35 73.4 L389.66 73.4 L389.98 73.4 L390.3 73.4 L390.61 73.4 L390.93 73.4 L391.25 73.4 L391.56 73.4 L391.88 73.4 L392.2 73.4 L392.51 73.4 L392.83 73.4 L393.15 73.4 L393.46 73.4 L393.78 73.4 L394.1 73.4 L394.41 73.4 L394.73 73.4 L395.04 73.4 L395.36 73.4 L395.68 73.4 L395.99 73.4 L396.31 73.4 L396.63 73.4 L396.94 73.4 L397.26 73.4 L397.58 73.39 L397.89 73.39 L398.21 73.38 L398.53 73.37 L398.84 73.35 L399.16 73.32 L399.48 73.27 L399.79 73.21 L400.11 73.11 L400.43 72.97 L400.74 72.77 L401.06 72.49 L401.37 72.1 L401.69 71.57 L402.01 70.86 L402.32 69.93 L402.64 68.74 L402.96 67.22 L403.27 65.33 L403.59 63.03 L403.91 60.28 L404.22 57.06 L404.54 53.39 L404.86 49.3 L405.17 44.85 L405.49 40.18 L405.81 35.42 L406.12 30.79 L406.44 26.51 L406.76 22.85 L407.07 20.09 L407.39 18.55 L407.7 18.82 L408.02 20.62 L408.34 23.47 L408.65 27.11 L408.97 31.27 L409.29 35.74 L409.6 40.3 L409.92 44.79 L410.24 49.07 L410.55 53.02 L410.87 56.6 L411.19 59.75 L411.5 62.48 L411.82 64.79 L412.14 66.7 L412.45 68.27 L412.77 69.52 L413.09 70.51 L413.4 71.27 L413.72 71.86 L414.03 72.29 L414.35 72.62 L414.67 72.85 L414.98 73.02 L415.3 73.14 L415.62 73.23 L415.93 73.29 L416.25 73.33 L416.57 73.35 L416.88 73.37 L417.2 73.38 L417.52 73.39 L417.83 73.39 L418.15 73.4 L418.47 73.4 L418.78 73.4 L419.1 73.4 L419.42 73.4 L419.73 73.4 L420.05 73.4 L420.36 73.4 L420.68 73.4 L421 73.4 L421.31 73.4 L421.63 73.4 L421.95 73.4 L422.26 73.4 L422.58 73.4 L422.9 73.4 L423.21 73.4 L423.53 73.4 L423.85 73.4 L424.16 73.4 L424.48 73.4 L424.8 73.4 L425.11 73.4 L425.43 73.4 L425.75 73.4 L426.06 73.4 L426.38 73.4 L426.69 73.4 L427.01 73.4 L427.33 73.4 L427.64 73.4 L427.96 73.4 L428.28 73.4 L428.59 73.4 L428.91 73.4 L429.23 73.4 L429.54 73.4 L429.86 73.4 L430.18 73.4 L430.49 73.4 L430.81 73.4 L431.13 73.4 L431.44 73.4 L431.76 73.4 L432.08 73.4 L432.39 73.4 L432.71 73.4 L433.02 73.4 L433.34 73.4 L433.66 73.4 L433.97 73.4 L434.29 73.4 L434.61 73.4 L434.92 73.4 L435.24 73.4 L435.56 73.4 L435.87 73.4 L436.19 73.4 L436.51 73.4 L436.82 73.4 L437.14 73.4 L437.46 73.4 L437.77 73.4 L438.09 73.4 L438.41 73.4 L438.72 73.4 L439.04 73.4 L439.35 73.4 L439.67 73.4 L439.99 73.4 L440.3 73.4 L440.62 73.4 L440.94 73.4 L441.25 73.4 L441.57 73.4 L441.89 73.4 L442.2 73.4 L442.52 73.4 L442.84 73.4 L443.15 73.4 L443.47 73.4 L443.79 73.4 L444.1 73.4 L444.42 73.4 L444.74 73.4 L445.05 73.4 L445.37 73.4 L445.68 73.4 L446 73.4 L446.32 73.4 L446.63 73.4 L446.95 73.4 L447.27 73.4 L447.58 73.4 L447.9 73.4 L447.9 74 Z" fill="#cacaca" stroke="#8a8a8a" stroke-width="0.9"/>
<path d="M384.6 73.4 L384.92 73.4 L385.23 73.4 L385.55 73.4 L385.87 73.4 L386.18 73.4 L386.5 73.4 L386.82 73.4 L387.13 73.4 L387.45 73.4 L387.77 73.4 L388.08 73.4 L388.4 73.4 L388.71 73.4 L389.03 73.4 L389.35 73.4 L389.66 73.4 L389.98 73.4 L390.3 73.4 L390.61 73.4 L390.93 73.4 L391.25 73.4 L391.56 73.4 L391.88 73.4 L392.2 73.4 L392.51 73.4 L392.83 73.4 L393.15 73.4 L393.46 73.4 L393.78 73.4 L394.1 73.4 L394.41 73.4 L394.73 73.4 L395.04 73.4 L395.36 73.4 L395.68 73.4 L395.99 73.4 L396.31 73.4 L396.63 73.4 L396.94 73.4 L397.26 73.4 L397.58 73.4 L397.89 73.4 L398.21 73.4 L398.53 73.4 L398.84 73.4 L399.16 73.4 L399.48 73.4 L399.79 73.4 L400.11 73.4 L400.43 73.4 L400.74 73.4 L401.06 73.4 L401.37 73.4 L401.69 73.4 L402.01 73.4 L402.32 73.4 L402.64 73.4 L402.96 73.39 L403.27 73.39 L403.59 73.39 L403.91 73.39 L404.22 73.38 L404.54 73.38 L404.86 73.37 L405.17 73.36 L405.49 73.35 L405.81 73.33 L406.12 73.31 L406.44 73.29 L406.76 73.25 L407.07 73.22 L407.39 73.17 L407.7 73.1 L408.02 73.03 L408.34 72.94 L408.65 72.83 L408.97 72.69 L409.29 72.53 L409.6 72.33 L409.92 72.1 L410.24 71.82 L410.55 71.5 L410.87 71.12 L411.19 70.68 L411.5 70.17 L411.82 69.58 L412.14 68.92 L412.45 68.16 L412.77 67.3 L413.09 66.35 L413.4 65.29 L413.72 64.12 L414.03 62.84 L414.35 61.44 L414.67 59.95 L414.98 58.35 L415.3 56.65 L415.62 54.87 L415.93 53.03 L416.25 51.14 L416.57 49.22 L416.88 47.3 L417.2 45.4 L417.52 43.56 L417.83 41.81 L418.15 40.19 L418.47 38.74 L418.78 37.49 L419.1 36.48 L419.42 35.77 L419.73 35.42 L420.05 35.56 L420.36 36.1 L420.68 36.95 L421 38.05 L421.31 39.37 L421.63 40.87 L421.95 42.51 L422.26 44.25 L422.58 46.07 L422.9 47.94 L423.21 49.82 L423.53 51.68 L423.85 53.52 L424.16 55.31 L424.48 57.02 L424.8 58.66 L425.11 60.2 L425.43 61.65 L425.75 62.99 L426.06 64.23 L426.38 65.37 L426.69 66.4 L427.01 67.33 L427.33 68.16 L427.64 68.9 L427.96 69.55 L428.28 70.13 L428.59 70.63 L428.91 71.07 L429.23 71.45 L429.54 71.77 L429.86 72.05 L430.18 72.29 L430.49 72.48 L430.81 72.65 L431.13 72.79 L431.44 72.91 L431.76 73 L432.08 73.08 L432.39 73.14 L432.71 73.2 L433.02 73.24 L433.34 73.27 L433.66 73.3 L433.97 73.32 L434.29 73.34 L434.61 73.35 L434.92 73.36 L435.24 73.37 L435.56 73.38 L435.87 73.38 L436.19 73.39 L436.51 73.39 L436.82 73.39 L437.14 73.39 L437.46 73.4 L437.77 73.4 L438.09 73.4 L438.41 73.4 L438.72 73.4 L439.04 73.4 L439.35 73.4 L439.67 73.4 L439.99 73.4 L440.3 73.4 L440.62 73.4 L440.94 73.4 L441.25 73.4 L441.57 73.4 L441.89 73.4 L442.2 73.4 L442.52 73.4 L442.84 73.4 L443.15 73.4 L443.47 73.4 L443.79 73.4 L444.1 73.4 L444.42 73.4 L444.74 73.4 L445.05 73.4 L445.37 73.4 L445.68 73.4 L446 73.4 L446.32 73.4 L446.63 73.4 L446.95 73.4 L447.27 73.4 L447.58 73.4 L447.9 73.4" fill="none" stroke="#8edc6a" stroke-width="1.3" stroke-linejoin="round"/>
<path d="M384.6 73.4 L384.92 73.4 L385.23 73.4 L385.55 73.4 L385.87 73.4 L386.18 73.4 L386.5 73.4 L386.82 73.4 L387.13 73.4 L387.45 73.4 L387.77 73.4 L388.08 73.4 L388.4 73.4 L388.71 73.4 L389.03 73.4 L389.35 73.4 L389.66 73.4 L389.98 73.4 L390.3 73.4 L390.61 73.4 L390.93 73.4 L391.25 73.4 L391.56 73.4 L391.88 73.4 L392.2 73.4 L392.51 73.4 L392.83 73.4 L393.15 73.4 L393.46 73.4 L393.78 73.4 L394.1 73.4 L394.41 73.4 L394.73 73.39 L395.04 73.39 L395.36 73.39 L395.68 73.39 L395.99 73.39 L396.31 73.39 L396.63 73.38 L396.94 73.38 L397.26 73.38 L397.58 73.37 L397.89 73.37 L398.21 73.36 L398.53 73.35 L398.84 73.35 L399.16 73.34 L399.48 73.33 L399.79 73.31 L400.11 73.3 L400.43 73.28 L400.74 73.26 L401.06 73.24 L401.37 73.22 L401.69 73.19 L402.01 73.16 L402.32 73.12 L402.64 73.08 L402.96 73.03 L403.27 72.98 L403.59 72.92 L403.91 72.86 L404.22 72.78 L404.54 72.7 L404.86 72.61 L405.17 72.5 L405.49 72.39 L405.81 72.26 L406.12 72.12 L406.44 71.96 L406.76 71.79 L407.07 71.6 L407.39 71.39 L407.7 71.17 L408.02 70.92 L408.34 70.65 L408.65 70.36 L408.97 70.04 L409.29 69.7 L409.6 69.33 L409.92 68.94 L410.24 68.51 L410.55 68.06 L410.87 67.58 L411.19 67.06 L411.5 66.52 L411.82 65.94 L412.14 65.34 L412.45 64.7 L412.77 64.03 L413.09 63.34 L413.4 62.61 L413.72 61.86 L414.03 61.09 L414.35 60.29 L414.67 59.47 L414.98 58.64 L415.3 57.79 L415.62 56.93 L415.93 56.07 L416.25 55.2 L416.57 54.34 L416.88 53.49 L417.2 52.65 L417.52 51.82 L417.83 51.03 L418.15 50.26 L418.47 49.54 L418.78 48.86 L419.1 48.22 L419.42 47.65 L419.73 47.15 L420.05 46.71 L420.36 46.36 L420.68 46.1 L421 45.94 L421.31 45.92 L421.63 46.17 L421.95 46.61 L422.26 47.23 L422.58 48 L422.9 48.89 L423.21 49.89 L423.53 50.97 L423.85 52.11 L424.16 53.31 L424.48 54.53 L424.8 55.77 L425.11 57.01 L425.43 58.24 L425.75 59.44 L426.06 60.61 L426.38 61.73 L426.69 62.81 L427.01 63.83 L427.33 64.79 L427.64 65.69 L427.96 66.52 L428.28 67.29 L428.59 68 L428.91 68.65 L429.23 69.24 L429.54 69.77 L429.86 70.24 L430.18 70.67 L430.49 71.04 L430.81 71.38 L431.13 71.67 L431.44 71.93 L431.76 72.15 L432.08 72.35 L432.39 72.51 L432.71 72.66 L433.02 72.78 L433.34 72.88 L433.66 72.97 L433.97 73.05 L434.29 73.11 L434.61 73.16 L434.92 73.21 L435.24 73.24 L435.56 73.27 L435.87 73.3 L436.19 73.32 L436.51 73.33 L436.82 73.35 L437.14 73.36 L437.46 73.37 L437.77 73.37 L438.09 73.38 L438.41 73.38 L438.72 73.39 L439.04 73.39 L439.35 73.39 L439.67 73.39 L439.99 73.4 L440.3 73.4 L440.62 73.4 L440.94 73.4 L441.25 73.4 L441.57 73.4 L441.89 73.4 L442.2 73.4 L442.52 73.4 L442.84 73.4 L443.15 73.4 L443.47 73.4 L443.79 73.4 L444.1 73.4 L444.42 73.4 L444.74 73.4 L445.05 73.4 L445.37 73.4 L445.68 73.4 L446 73.4 L446.32 73.4 L446.63 73.4 L446.95 73.4 L447.27 73.4 L447.58 73.4 L447.9 73.4" fill="none" stroke="#c6a263" stroke-width="1.3" stroke-linejoin="round"/>
<path d="M384.6 73.4 L384.92 73.4 L385.23 73.4 L385.55 73.4 L385.87 73.4 L386.18 73.4 L386.5 73.4 L386.82 73.4 L387.13 73.4 L387.45 73.4 L387.77 73.4 L388.08 73.4 L388.4 73.4 L388.71 73.4 L389.03 73.4 L389.35 73.4 L389.66 73.4 L389.98 73.4 L390.3 73.4 L390.61 73.4 L390.93 73.4 L391.25 73.4 L391.56 73.4 L391.88 73.4 L392.2 73.4 L392.51 73.4 L392.83 73.4 L393.15 73.4 L393.46 73.4 L393.78 73.4 L394.1 73.4 L394.41 73.4 L394.73 73.4 L395.04 73.4 L395.36 73.4 L395.68 73.39 L395.99 73.39 L396.31 73.39 L396.63 73.39 L396.94 73.39 L397.26 73.39 L397.58 73.38 L397.89 73.38 L398.21 73.38 L398.53 73.37 L398.84 73.37 L399.16 73.36 L399.48 73.35 L399.79 73.35 L400.11 73.34 L400.43 73.33 L400.74 73.31 L401.06 73.3 L401.37 73.28 L401.69 73.26 L402.01 73.24 L402.32 73.21 L402.64 73.18 L402.96 73.15 L403.27 73.11 L403.59 73.07 L403.91 73.02 L404.22 72.96 L404.54 72.9 L404.86 72.83 L405.17 72.75 L405.49 72.66 L405.81 72.56 L406.12 72.44 L406.44 72.32 L406.76 72.18 L407.07 72.02 L407.39 71.85 L407.7 71.66 L408.02 71.45 L408.34 71.23 L408.65 70.98 L408.97 70.7 L409.29 70.41 L409.6 70.08 L409.92 69.73 L410.24 69.36 L410.55 68.95 L410.87 68.51 L411.19 68.04 L411.5 67.54 L411.82 67.01 L412.14 66.45 L412.45 65.85 L412.77 65.22 L413.09 64.55 L413.4 63.86 L413.72 63.13 L414.03 62.38 L414.35 61.6 L414.67 60.79 L414.98 59.96 L415.3 59.11 L415.62 58.24 L415.93 57.36 L416.25 56.47 L416.57 55.58 L416.88 54.69 L417.2 53.8 L417.52 52.93 L417.83 52.08 L418.15 51.25 L418.47 50.45 L418.78 49.69 L419.1 48.98 L419.42 48.32 L419.73 47.72 L420.05 47.19 L420.36 46.73 L420.68 46.37 L421 46.09 L421.31 45.93 L421.63 45.93 L421.95 46.21 L422.26 46.7 L422.58 47.38 L422.9 48.21 L423.21 49.18 L423.53 50.25 L423.85 51.41 L424.16 52.63 L424.48 53.89 L424.8 55.18 L425.11 56.48 L425.43 57.77 L425.75 59.04 L426.06 60.27 L426.38 61.46 L426.69 62.6 L427.01 63.67 L427.33 64.69 L427.64 65.63 L427.96 66.51 L428.28 67.31 L428.59 68.05 L428.91 68.72 L429.23 69.33 L429.54 69.87 L429.86 70.35 L430.18 70.78 L430.49 71.16 L430.81 71.5 L431.13 71.79 L431.44 72.04 L431.76 72.26 L432.08 72.44 L432.39 72.6 L432.71 72.74 L433.02 72.86 L433.34 72.95 L433.66 73.03 L433.97 73.1 L434.29 73.16 L434.61 73.2 L434.92 73.24 L435.24 73.27 L435.56 73.3 L435.87 73.32 L436.19 73.34 L436.51 73.35 L436.82 73.36 L437.14 73.37 L437.46 73.38 L437.77 73.38 L438.09 73.39 L438.41 73.39 L438.72 73.39 L439.04 73.39 L439.35 73.4 L439.67 73.4 L439.99 73.4 L440.3 73.4 L440.62 73.4 L440.94 73.4 L441.25 73.4 L441.57 73.4 L441.89 73.4 L442.2 73.4 L442.52 73.4 L442.84 73.4 L443.15 73.4 L443.47 73.4 L443.79 73.4 L444.1 73.4 L444.42 73.4 L444.74 73.4 L445.05 73.4 L445.37 73.4 L445.68 73.4 L446 73.4 L446.32 73.4 L446.63 73.4 L446.95 73.4 L447.27 73.4 L447.58 73.4 L447.9 73.4" fill="none" stroke="#c8381c" stroke-width="1.3" stroke-linejoin="round"/>
<path d="M384.6 73.4 L384.92 73.4 L385.23 73.4 L385.55 73.4 L385.87 73.4 L386.18 73.4 L386.5 73.4 L386.82 73.4 L387.13 73.4 L387.45 73.4 L387.77 73.4 L388.08 73.4 L388.4 73.4 L388.71 73.4 L389.03 73.4 L389.35 73.4 L389.66 73.4 L389.98 73.4 L390.3 73.4 L390.61 73.4 L390.93 73.4 L391.25 73.4 L391.56 73.4 L391.88 73.4 L392.2 73.4 L392.51 73.4 L392.83 73.4 L393.15 73.4 L393.46 73.4 L393.78 73.4 L394.1 73.4 L394.41 73.4 L394.73 73.4 L395.04 73.4 L395.36 73.4 L395.68 73.4 L395.99 73.4 L396.31 73.4 L396.63 73.4 L396.94 73.4 L397.26 73.4 L397.58 73.4 L397.89 73.4 L398.21 73.4 L398.53 73.4 L398.84 73.4 L399.16 73.4 L399.48 73.4 L399.79 73.4 L400.11 73.39 L400.43 73.39 L400.74 73.39 L401.06 73.39 L401.37 73.39 L401.69 73.38 L402.01 73.38 L402.32 73.38 L402.64 73.37 L402.96 73.37 L403.27 73.36 L403.59 73.35 L403.91 73.34 L404.22 73.33 L404.54 73.32 L404.86 73.3 L405.17 73.28 L405.49 73.26 L405.81 73.24 L406.12 73.21 L406.44 73.18 L406.76 73.14 L407.07 73.1 L407.39 73.04 L407.7 72.99 L408.02 72.92 L408.34 72.85 L408.65 72.76 L408.97 72.66 L409.29 72.56 L409.6 72.43 L409.92 72.3 L410.24 72.14 L410.55 71.97 L410.87 71.78 L411.19 71.57 L411.5 71.34 L411.82 71.09 L412.14 70.81 L412.45 70.5 L412.77 70.17 L413.09 69.81 L413.4 69.42 L413.72 69 L414.03 68.56 L414.35 68.07 L414.67 67.56 L414.98 67.02 L415.3 66.45 L415.62 65.85 L415.93 65.22 L416.25 64.56 L416.57 63.89 L416.88 63.19 L417.2 62.47 L417.52 61.74 L417.83 61 L418.15 60.25 L418.47 59.5 L418.78 58.76 L419.1 58.03 L419.42 57.32 L419.73 56.64 L420.05 55.99 L420.36 55.37 L420.68 54.81 L421 54.3 L421.31 53.85 L421.63 53.48 L421.95 53.19 L422.26 52.99 L422.58 52.9 L422.9 53.04 L423.21 53.43 L423.53 54 L423.85 54.72 L424.16 55.58 L424.48 56.53 L424.8 57.56 L425.11 58.65 L425.43 59.76 L425.75 60.88 L426.06 61.99 L426.38 63.07 L426.69 64.12 L427.01 65.12 L427.33 66.06 L427.64 66.93 L427.96 67.74 L428.28 68.48 L428.59 69.15 L428.91 69.75 L429.23 70.29 L429.54 70.76 L429.86 71.18 L430.18 71.54 L430.49 71.85 L430.81 72.12 L431.13 72.35 L431.44 72.54 L431.76 72.7 L432.08 72.83 L432.39 72.94 L432.71 73.04 L433.02 73.11 L433.34 73.17 L433.66 73.22 L433.97 73.26 L434.29 73.29 L434.61 73.32 L434.92 73.34 L435.24 73.35 L435.56 73.36 L435.87 73.37 L436.19 73.38 L436.51 73.38 L436.82 73.39 L437.14 73.39 L437.46 73.39 L437.77 73.4 L438.09 73.4 L438.41 73.4 L438.72 73.4 L439.04 73.4 L439.35 73.4 L439.67 73.4 L439.99 73.4 L440.3 73.4 L440.62 73.4 L440.94 73.4 L441.25 73.4 L441.57 73.4 L441.89 73.4 L442.2 73.4 L442.52 73.4 L442.84 73.4 L443.15 73.4 L443.47 73.4 L443.79 73.4 L444.1 73.4 L444.42 73.4 L444.74 73.4 L445.05 73.4 L445.37 73.4 L445.68 73.4 L446 73.4 L446.32 73.4 L446.63 73.4 L446.95 73.4 L447.27 73.4 L447.58 73.4 L447.9 73.4" fill="none" stroke="#2a2aa8" stroke-width="1.3" stroke-linejoin="round"/>
</g>
<line x1="384.6" y1="10.8" x2="447.9" y2="10.8" stroke="#bdbdbd" stroke-width="1"/>
<line x1="447.9" y1="10.8" x2="447.9" y2="74" stroke="#c4c4c4" stroke-width="1"/>
<line x1="384.6" y1="74" x2="447.9" y2="74" stroke="#6a6a6a" stroke-width="1"/>
<line x1="384.6" y1="10.8" x2="384.6" y2="74" stroke="#8a8a8a" stroke-width="1"/>
<line x1="383.1" y1="15.8" x2="384.6" y2="15.8" stroke="#999" stroke-width="0.6"/>
<line x1="383.1" y1="27.3" x2="384.6" y2="27.3" stroke="#999" stroke-width="0.6"/>
<line x1="383.1" y1="38.8" x2="384.6" y2="38.8" stroke="#999" stroke-width="0.6"/>
<line x1="383.1" y1="50.3" x2="384.6" y2="50.3" stroke="#999" stroke-width="0.6"/>
<line x1="383.1" y1="61.8" x2="384.6" y2="61.8" stroke="#999" stroke-width="0.6"/>
<line x1="383.1" y1="73.3" x2="384.6" y2="73.3" stroke="#999" stroke-width="0.6"/>
</g>
<text x="23.4" y="19.6" font-size="8.8" text-anchor="start" font-weight="normal" fill="#111" stroke="#111" stroke-width="0.33" style="font-family:'Liberation Serif', serif">&#945;L</text>
<text x="95.8" y="19.8" font-size="8.8" text-anchor="start" font-weight="normal" fill="#111" stroke="#111" stroke-width="0.33" style="font-family:'Liberation Serif', serif">&#945;M</text>
<text x="169.3" y="20" font-size="8.6" text-anchor="start" font-weight="normal" fill="#111" stroke="#111" stroke-width="0.33" style="font-family:'Liberation Sans', sans-serif">&#946;2</text>
<text x="240.8" y="20.2" font-size="8.6" text-anchor="start" font-weight="normal" fill="#111" stroke="#111" stroke-width="0.33" style="font-family:'Liberation Sans', sans-serif">CD44</text>
<text x="313.4" y="20.2" font-size="8.6" text-anchor="start" font-weight="normal" fill="#111" stroke="#111" stroke-width="0.33" style="font-family:'Liberation Sans', sans-serif">CD43</text>
<text x="386.8" y="20.2" font-size="8.6" text-anchor="start" font-weight="normal" fill="#111" stroke="#111" stroke-width="0.33" style="font-family:'Liberation Sans', sans-serif">PSGL1</text>
<line x1="453.4" y1="17.2" x2="462.5" y2="17.2" stroke="#4f9f4f" stroke-width="2"/>
<line x1="453.4" y1="27.6" x2="462.5" y2="27.6" stroke="#c0202c" stroke-width="2"/>
<line x1="453.4" y1="38.2" x2="462.5" y2="38.2" stroke="#5b9bd8" stroke-width="2"/>
<rect x="453.4" y="47" width="9.1" height="4.2" fill="#dcdcdc" stroke="none" stroke-width="0"/>
<text x="465.5" y="19.5" font-size="8.6" text-anchor="start" font-weight="normal" fill="#111" stroke="#111" stroke-width="0.33" style="font-family:'Liberation Sans', sans-serif">wt</text>
<text x="465.5" y="30.2" font-size="8.6" text-anchor="start" font-weight="normal" fill="#111" stroke="#111" stroke-width="0.33" style="font-family:'Liberation Sans', sans-serif">RIAM<tspan dx="0.34" dy="-3.7" font-size="6.88" letter-spacing="0.6">-/-</tspan></text>
<text x="465.5" y="41" font-size="8.6" text-anchor="start" font-weight="normal" fill="#111" stroke="#111" stroke-width="0.33" style="font-family:'Liberation Sans', sans-serif">Talin-1<tspan dx="0.34" dy="-3.7" font-size="6.88" letter-spacing="0.6">-/-</tspan></text>
<text x="465.5" y="51.4" font-size="8.6" text-anchor="start" font-weight="normal" fill="#111" stroke="#111" stroke-width="0.33" style="font-family:'Liberation Sans', sans-serif">isotype ctrl</text>
<text x="1.1" y="115.6" font-size="16.6" text-anchor="start" font-weight="bold" fill="#000" stroke="#000" stroke-width="0.33" style="font-family:'Liberation Sans', sans-serif">B</text>
<line x1="30.2" y1="133.9" x2="30.2" y2="212.7" stroke="#111" stroke-width="1.8"/>
<line x1="27.2" y1="212" x2="30.2" y2="212" stroke="#111" stroke-width="1.1"/>
<text x="25.8" y="215.1" font-size="8.6" text-anchor="end" font-weight="normal" fill="#111" stroke="#111" stroke-width="0.33" style="font-family:'Liberation Sans', sans-serif">0</text>
<line x1="27.2" y1="199.07" x2="30.2" y2="199.07" stroke="#111" stroke-width="1.1"/>
<text x="25.8" y="202.16" font-size="8.6" text-anchor="end" font-weight="normal" fill="#111" stroke="#111" stroke-width="0.33" style="font-family:'Liberation Sans', sans-serif">50</text>
<line x1="27.2" y1="186.13" x2="30.2" y2="186.13" stroke="#111" stroke-width="1.1"/>
<text x="25.8" y="189.23" font-size="8.6" text-anchor="end" font-weight="normal" fill="#111" stroke="#111" stroke-width="0.33" style="font-family:'Liberation Sans', sans-serif">100</text>
<line x1="27.2" y1="173.2" x2="30.2" y2="173.2" stroke="#111" stroke-width="1.1"/>
<text x="25.8" y="176.3" font-size="8.6" text-anchor="end" font-weight="normal" fill="#111" stroke="#111" stroke-width="0.33" style="font-family:'Liberation Sans', sans-serif">150</text>
<line x1="27.2" y1="160.27" x2="30.2" y2="160.27" stroke="#111" stroke-width="1.1"/>
<text x="25.8" y="163.36" font-size="8.6" text-anchor="end" font-weight="normal" fill="#111" stroke="#111" stroke-width="0.33" style="font-family:'Liberation Sans', sans-serif">200</text>
<line x1="27.2" y1="147.33" x2="30.2" y2="147.33" stroke="#111" stroke-width="1.1"/>
<text x="25.8" y="150.43" font-size="8.6" text-anchor="end" font-weight="normal" fill="#111" stroke="#111" stroke-width="0.33" style="font-family:'Liberation Sans', sans-serif">250</text>
<line x1="27.2" y1="134.4" x2="30.2" y2="134.4" stroke="#111" stroke-width="1.1"/>
<text x="25.8" y="137.5" font-size="8.6" text-anchor="end" font-weight="normal" fill="#111" stroke="#111" stroke-width="0.33" style="font-family:'Liberation Sans', sans-serif">300</text>
<line x1="29.3" y1="212" x2="164.5" y2="212" stroke="#111" stroke-width="1.9"/>
<text x="72.5" y="132.9" font-size="9.4" text-anchor="start" font-weight="normal" fill="#111" stroke="#111" stroke-width="0.33" style="font-family:'Liberation Sans', sans-serif">ICAM-1</text>
<text transform="translate(8,172) rotate(-90)" font-size="8.6" text-anchor="middle" fill="#111" stroke="#111" stroke-width="0.33" style="font-family:'Liberation Sans', sans-serif">Cells per fov</text>
<line x1="39.9" y1="207.3" x2="39.9" y2="205.4" stroke="#111" stroke-width="1.1"/>
<line x1="38.3" y1="205.4" x2="41.5" y2="205.4" stroke="#111" stroke-width="1.2"/>
<rect x="33.2" y="207.3" width="13.4" height="4.7" fill="#454545" stroke="#111" stroke-width="1.5"/>
<line x1="53.3" y1="210.4" x2="53.3" y2="209.8" stroke="#111" stroke-width="1.1"/>
<line x1="51.7" y1="209.8" x2="54.9" y2="209.8" stroke="#111" stroke-width="1.2"/>
<rect x="46.6" y="210.4" width="13.4" height="1.6" fill="#a8a8a8" stroke="#111" stroke-width="1.5"/>
<rect x="60" y="210.7" width="13.4" height="1.3" fill="#ffffff" stroke="#111" stroke-width="1.5"/>
<line x1="84.8" y1="180.8" x2="84.8" y2="176.9" stroke="#111" stroke-width="1.1"/>
<line x1="83.2" y1="176.9" x2="86.4" y2="176.9" stroke="#111" stroke-width="1.2"/>
<rect x="78.1" y="180.8" width="13.4" height="31.2" fill="#454545" stroke="#111" stroke-width="1.5"/>
<line x1="98.2" y1="209.8" x2="98.2" y2="209" stroke="#111" stroke-width="1.1"/>
<line x1="96.6" y1="209" x2="99.8" y2="209" stroke="#111" stroke-width="1.2"/>
<rect x="91.5" y="209.8" width="13.4" height="2.2" fill="#a8a8a8" stroke="#111" stroke-width="1.5"/>
<line x1="111.6" y1="210.4" x2="111.6" y2="209.6" stroke="#111" stroke-width="1.1"/>
<line x1="110" y1="209.6" x2="113.2" y2="209.6" stroke="#111" stroke-width="1.2"/>
<rect x="104.9" y="210.4" width="13.4" height="1.6" fill="#ffffff" stroke="#111" stroke-width="1.5"/>
<line x1="130.2" y1="150.6" x2="130.2" y2="147" stroke="#111" stroke-width="1.1"/>
<line x1="128.6" y1="147" x2="131.8" y2="147" stroke="#111" stroke-width="1.2"/>
<rect x="123.5" y="150.6" width="13.4" height="61.4" fill="#454545" stroke="#111" stroke-width="1.5"/>
<line x1="143.6" y1="208.3" x2="143.6" y2="204.4" stroke="#111" stroke-width="1.1"/>
<line x1="142" y1="204.4" x2="145.2" y2="204.4" stroke="#111" stroke-width="1.2"/>
<rect x="136.9" y="208.3" width="13.4" height="3.7" fill="#a8a8a8" stroke="#111" stroke-width="1.5"/>
<line x1="157" y1="209.6" x2="157" y2="207.7" stroke="#111" stroke-width="1.1"/>
<line x1="155.4" y1="207.7" x2="158.6" y2="207.7" stroke="#111" stroke-width="1.2"/>
<rect x="150.3" y="209.6" width="13.4" height="2.4" fill="#ffffff" stroke="#111" stroke-width="1.5"/>
<text x="52.5" y="222.9" font-size="8.6" text-anchor="middle" font-weight="normal" fill="#111" stroke="#111" stroke-width="0.33" style="font-family:'Liberation Sans', sans-serif">rest.</text>
<text x="98.4" y="222.9" font-size="8.6" text-anchor="middle" font-weight="normal" fill="#111" stroke="#111" stroke-width="0.33" style="font-family:'Liberation Sans', sans-serif">TNF-&#945;</text>
<text x="143.3" y="222.9" font-size="8.6" text-anchor="middle" font-weight="normal" fill="#111" stroke="#111" stroke-width="0.33" style="font-family:'Liberation Sans', sans-serif">PMA</text>
<line x1="205" y1="133.9" x2="205" y2="212.7" stroke="#111" stroke-width="1.8"/>
<line x1="202" y1="212" x2="205" y2="212" stroke="#111" stroke-width="1.1"/>
<text x="202.5" y="215.1" font-size="8.6" text-anchor="end" font-weight="normal" fill="#111" stroke="#111" stroke-width="0.33" style="font-family:'Liberation Sans', sans-serif">0</text>
<line x1="202" y1="199.07" x2="205" y2="199.07" stroke="#111" stroke-width="1.1"/>
<text x="202.5" y="202.16" font-size="8.6" text-anchor="end" font-weight="normal" fill="#111" stroke="#111" stroke-width="0.33" style="font-family:'Liberation Sans', sans-serif">50</text>
<line x1="202" y1="186.13" x2="205" y2="186.13" stroke="#111" stroke-width="1.1"/>
<text x="202.5" y="189.23" font-size="8.6" text-anchor="end" font-weight="normal" fill="#111" stroke="#111" stroke-width="0.33" style="font-family:'Liberation Sans', sans-serif">100</text>
<line x1="202" y1="173.2" x2="205" y2="173.2" stroke="#111" stroke-width="1.1"/>
<text x="202.5" y="176.3" font-size="8.6" text-anchor="end" font-weight="normal" fill="#111" stroke="#111" stroke-width="0.33" style="font-family:'Liberation Sans', sans-serif">150</text>
<line x1="202" y1="160.27" x2="205" y2="160.27" stroke="#111" stroke-width="1.1"/>
<text x="202.5" y="163.36" font-size="8.6" text-anchor="end" font-weight="normal" fill="#111" stroke="#111" stroke-width="0.33" style="font-family:'Liberation Sans', sans-serif">200</text>
<line x1="202" y1="147.33" x2="205" y2="147.33" stroke="#111" stroke-width="1.1"/>
<text x="202.5" y="150.43" font-size="8.6" text-anchor="end" font-weight="normal" fill="#111" stroke="#111" stroke-width="0.33" style="font-family:'Liberation Sans', sans-serif">250</text>
<line x1="202" y1="134.4" x2="205" y2="134.4" stroke="#111" stroke-width="1.1"/>
<text x="202.5" y="137.5" font-size="8.6" text-anchor="end" font-weight="normal" fill="#111" stroke="#111" stroke-width="0.33" style="font-family:'Liberation Sans', sans-serif">300</text>
<line x1="204.1" y1="212" x2="344.5" y2="212" stroke="#111" stroke-width="1.9"/>
<text x="249.8" y="130.9" font-size="9.4" text-anchor="start" font-weight="normal" fill="#111" stroke="#111" stroke-width="0.33" style="font-family:'Liberation Sans', sans-serif">Fibrinogen</text>
<text transform="translate(184.9,172) rotate(-90)" font-size="8.6" text-anchor="middle" fill="#111" stroke="#111" stroke-width="0.33" style="font-family:'Liberation Sans', sans-serif">Cells per fov</text>
<line x1="215.2" y1="206.2" x2="215.2" y2="204.2" stroke="#111" stroke-width="1.1"/>
<line x1="213.6" y1="204.2" x2="216.8" y2="204.2" stroke="#111" stroke-width="1.2"/>
<rect x="208.5" y="206.2" width="13.4" height="5.8" fill="#454545" stroke="#111" stroke-width="1.5"/>
<line x1="228.6" y1="208.8" x2="228.6" y2="207.8" stroke="#111" stroke-width="1.1"/>
<line x1="227" y1="207.8" x2="230.2" y2="207.8" stroke="#111" stroke-width="1.2"/>
<rect x="221.9" y="208.8" width="13.4" height="3.2" fill="#a8a8a8" stroke="#111" stroke-width="1.5"/>
<line x1="242" y1="210.3" x2="242" y2="209.6" stroke="#111" stroke-width="1.1"/>
<line x1="240.4" y1="209.6" x2="243.6" y2="209.6" stroke="#111" stroke-width="1.2"/>
<rect x="235.3" y="210.3" width="13.4" height="1.7" fill="#ffffff" stroke="#111" stroke-width="1.5"/>
<line x1="260.4" y1="190.3" x2="260.4" y2="189" stroke="#111" stroke-width="1.1"/>
<line x1="258.8" y1="189" x2="262" y2="189" stroke="#111" stroke-width="1.2"/>
<rect x="253.7" y="190.3" width="13.4" height="21.7" fill="#454545" stroke="#111" stroke-width="1.5"/>
<line x1="273.8" y1="209" x2="273.8" y2="208.3" stroke="#111" stroke-width="1.1"/>
<line x1="272.2" y1="208.3" x2="275.4" y2="208.3" stroke="#111" stroke-width="1.2"/>
<rect x="267.1" y="209" width="13.4" height="3" fill="#a8a8a8" stroke="#111" stroke-width="1.5"/>
<line x1="287.2" y1="209.4" x2="287.2" y2="208.6" stroke="#111" stroke-width="1.1"/>
<line x1="285.6" y1="208.6" x2="288.8" y2="208.6" stroke="#111" stroke-width="1.2"/>
<rect x="280.5" y="209.4" width="13.4" height="2.6" fill="#ffffff" stroke="#111" stroke-width="1.5"/>
<line x1="306.2" y1="152.2" x2="306.2" y2="144.5" stroke="#111" stroke-width="1.1"/>
<line x1="304.6" y1="144.5" x2="307.8" y2="144.5" stroke="#111" stroke-width="1.2"/>
<rect x="299.5" y="152.2" width="13.4" height="59.8" fill="#454545" stroke="#111" stroke-width="1.5"/>
<line x1="319.6" y1="207.3" x2="319.6" y2="203.2" stroke="#111" stroke-width="1.1"/>
<line x1="318" y1="203.2" x2="321.2" y2="203.2" stroke="#111" stroke-width="1.2"/>
<rect x="312.9" y="207.3" width="13.4" height="4.7" fill="#a8a8a8" stroke="#111" stroke-width="1.5"/>
<line x1="333" y1="209.4" x2="333" y2="208.4" stroke="#111" stroke-width="1.1"/>
<line x1="331.4" y1="208.4" x2="334.6" y2="208.4" stroke="#111" stroke-width="1.2"/>
<rect x="326.3" y="209.4" width="13.4" height="2.6" fill="#ffffff" stroke="#111" stroke-width="1.5"/>
<text x="229.4" y="222.9" font-size="8.6" text-anchor="middle" font-weight="normal" fill="#111" stroke="#111" stroke-width="0.33" style="font-family:'Liberation Sans', sans-serif">rest.</text>
<text x="275.6" y="222.9" font-size="8.6" text-anchor="middle" font-weight="normal" fill="#111" stroke="#111" stroke-width="0.33" style="font-family:'Liberation Sans', sans-serif">TNF-&#945;</text>
<text x="319.2" y="222.9" font-size="8.6" text-anchor="middle" font-weight="normal" fill="#111" stroke="#111" stroke-width="0.33" style="font-family:'Liberation Sans', sans-serif">PMA</text>
<line x1="378.4" y1="133.9" x2="378.4" y2="212.7" stroke="#111" stroke-width="1.8"/>
<line x1="375.4" y1="212" x2="378.4" y2="212" stroke="#111" stroke-width="1.1"/>
<text x="376" y="215.1" font-size="8.6" text-anchor="end" font-weight="normal" fill="#111" stroke="#111" stroke-width="0.33" style="font-family:'Liberation Sans', sans-serif">0</text>
<line x1="375.4" y1="200.91" x2="378.4" y2="200.91" stroke="#111" stroke-width="1.1"/>
<text x="376" y="204.01" font-size="8.6" text-anchor="end" font-weight="normal" fill="#111" stroke="#111" stroke-width="0.33" style="font-family:'Liberation Sans', sans-serif">50</text>
<line x1="375.4" y1="189.83" x2="378.4" y2="189.83" stroke="#111" stroke-width="1.1"/>
<text x="376" y="192.92" font-size="8.6" text-anchor="end" font-weight="normal" fill="#111" stroke="#111" stroke-width="0.33" style="font-family:'Liberation Sans', sans-serif">100</text>
<line x1="375.4" y1="178.74" x2="378.4" y2="178.74" stroke="#111" stroke-width="1.1"/>
<text x="376" y="181.84" font-size="8.6" text-anchor="end" font-weight="normal" fill="#111" stroke="#111" stroke-width="0.33" style="font-family:'Liberation Sans', sans-serif">150</text>
<line x1="375.4" y1="167.66" x2="378.4" y2="167.66" stroke="#111" stroke-width="1.1"/>
<text x="376" y="170.75" font-size="8.6" text-anchor="end" font-weight="normal" fill="#111" stroke="#111" stroke-width="0.33" style="font-family:'Liberation Sans', sans-serif">200</text>
<line x1="375.4" y1="156.57" x2="378.4" y2="156.57" stroke="#111" stroke-width="1.1"/>
<text x="376" y="159.67" font-size="8.6" text-anchor="end" font-weight="normal" fill="#111" stroke="#111" stroke-width="0.33" style="font-family:'Liberation Sans', sans-serif">250</text>
<line x1="375.4" y1="145.49" x2="378.4" y2="145.49" stroke="#111" stroke-width="1.1"/>
<text x="376" y="148.58" font-size="8.6" text-anchor="end" font-weight="normal" fill="#111" stroke="#111" stroke-width="0.33" style="font-family:'Liberation Sans', sans-serif">300</text>
<line x1="375.4" y1="134.4" x2="378.4" y2="134.4" stroke="#111" stroke-width="1.1"/>
<text x="376" y="137.5" font-size="8.6" text-anchor="end" font-weight="normal" fill="#111" stroke="#111" stroke-width="0.33" style="font-family:'Liberation Sans', sans-serif">350</text>
<line x1="377.5" y1="212" x2="516" y2="212" stroke="#111" stroke-width="1.9"/>
<text x="429.8" y="132.9" font-size="9.4" text-anchor="start" font-weight="normal" fill="#111" stroke="#111" stroke-width="0.33" style="font-family:'Liberation Sans', sans-serif">VCAM-1</text>
<text transform="translate(358.1,172) rotate(-90)" font-size="8.6" text-anchor="middle" fill="#111" stroke="#111" stroke-width="0.33" style="font-family:'Liberation Sans', sans-serif">Cells per fov</text>
<line x1="388.6" y1="204" x2="388.6" y2="202.1" stroke="#111" stroke-width="1.1"/>
<line x1="387" y1="202.1" x2="390.2" y2="202.1" stroke="#111" stroke-width="1.2"/>
<rect x="381.9" y="204" width="13.4" height="8" fill="#454545" stroke="#111" stroke-width="1.5"/>
<line x1="402" y1="206.3" x2="402" y2="204.8" stroke="#111" stroke-width="1.1"/>
<line x1="400.4" y1="204.8" x2="403.6" y2="204.8" stroke="#111" stroke-width="1.2"/>
<rect x="395.3" y="206.3" width="13.4" height="5.7" fill="#a8a8a8" stroke="#111" stroke-width="1.5"/>
<line x1="415.4" y1="208.8" x2="415.4" y2="207.6" stroke="#111" stroke-width="1.1"/>
<line x1="413.8" y1="207.6" x2="417" y2="207.6" stroke="#111" stroke-width="1.2"/>
<rect x="408.7" y="208.8" width="13.4" height="3.2" fill="#ffffff" stroke="#111" stroke-width="1.5"/>
<line x1="434.4" y1="187.1" x2="434.4" y2="185.8" stroke="#111" stroke-width="1.1"/>
<line x1="432.8" y1="185.8" x2="436" y2="185.8" stroke="#111" stroke-width="1.2"/>
<rect x="427.7" y="187.1" width="13.4" height="24.9" fill="#454545" stroke="#111" stroke-width="1.5"/>
<line x1="447.8" y1="196.3" x2="447.8" y2="191.2" stroke="#111" stroke-width="1.1"/>
<line x1="446.2" y1="191.2" x2="449.4" y2="191.2" stroke="#111" stroke-width="1.2"/>
<rect x="441.1" y="196.3" width="13.4" height="15.7" fill="#a8a8a8" stroke="#111" stroke-width="1.5"/>
<line x1="461.2" y1="207.9" x2="461.2" y2="205.6" stroke="#111" stroke-width="1.1"/>
<line x1="459.6" y1="205.6" x2="462.8" y2="205.6" stroke="#111" stroke-width="1.2"/>
<rect x="454.5" y="207.9" width="13.4" height="4.1" fill="#ffffff" stroke="#111" stroke-width="1.5"/>
<line x1="479.2" y1="141.6" x2="479.2" y2="138.7" stroke="#111" stroke-width="1.1"/>
<line x1="477.6" y1="138.7" x2="480.8" y2="138.7" stroke="#111" stroke-width="1.2"/>
<rect x="472.5" y="141.6" width="13.4" height="70.4" fill="#454545" stroke="#111" stroke-width="1.5"/>
<line x1="492.6" y1="175.4" x2="492.6" y2="166.8" stroke="#111" stroke-width="1.1"/>
<line x1="491" y1="166.8" x2="494.2" y2="166.8" stroke="#111" stroke-width="1.2"/>
<rect x="485.9" y="175.4" width="13.4" height="36.6" fill="#a8a8a8" stroke="#111" stroke-width="1.5"/>
<line x1="506" y1="207.4" x2="506" y2="205.5" stroke="#111" stroke-width="1.1"/>
<line x1="504.4" y1="205.5" x2="507.6" y2="205.5" stroke="#111" stroke-width="1.2"/>
<rect x="499.3" y="207.4" width="13.4" height="4.6" fill="#ffffff" stroke="#111" stroke-width="1.5"/>
<text x="402" y="222.9" font-size="8.6" text-anchor="middle" font-weight="normal" fill="#111" stroke="#111" stroke-width="0.33" style="font-family:'Liberation Sans', sans-serif">rest.</text>
<text x="448.5" y="222.9" font-size="8.6" text-anchor="middle" font-weight="normal" fill="#111" stroke="#111" stroke-width="0.33" style="font-family:'Liberation Sans', sans-serif">TNF-&#945;</text>
<text x="492.6" y="222.9" font-size="8.6" text-anchor="middle" font-weight="normal" fill="#111" stroke="#111" stroke-width="0.33" style="font-family:'Liberation Sans', sans-serif">PMA</text>
<text x="85.6" y="162.9" font-size="8.2" fill="#111" stroke="#111" stroke-width="0.33" style="font-family:'Liberation Sans', sans-serif"><tspan font-style="italic">p</tspan>&lt;.001</text>
<line x1="85.2" y1="165.1" x2="111.6" y2="165.1" stroke="#111" stroke-width="1.5"/>
<line x1="85.2" y1="167.9" x2="98.6" y2="167.9" stroke="#111" stroke-width="1.5"/>
<text x="99.6" y="181.4" font-size="8.2" text-anchor="start" font-weight="normal" fill="#111" stroke="#111" stroke-width="0.33" style="font-family:'Liberation Sans', sans-serif">n.s.</text>
<line x1="99" y1="183.1" x2="113" y2="183.1" stroke="#111" stroke-width="1.5"/>
<text x="131" y="137.2" font-size="8.2" fill="#111" stroke="#111" stroke-width="0.33" style="font-family:'Liberation Sans', sans-serif"><tspan font-style="italic">p</tspan>&lt;.001</text>
<line x1="130.8" y1="139.8" x2="156" y2="139.8" stroke="#111" stroke-width="1.5"/>
<line x1="130.8" y1="141.9" x2="144" y2="141.9" stroke="#111" stroke-width="1.5"/>
<text x="144.8" y="181.4" font-size="8.2" text-anchor="start" font-weight="normal" fill="#111" stroke="#111" stroke-width="0.33" style="font-family:'Liberation Sans', sans-serif">n.s.</text>
<line x1="144.2" y1="183.1" x2="158" y2="183.1" stroke="#111" stroke-width="1.5"/>
<text x="260.6" y="163.7" font-size="8.2" fill="#111" stroke="#111" stroke-width="0.33" style="font-family:'Liberation Sans', sans-serif"><tspan font-style="italic">p</tspan>&lt;.001</text>
<line x1="260.2" y1="165.9" x2="286.6" y2="165.9" stroke="#111" stroke-width="1.5"/>
<line x1="260.2" y1="168.7" x2="273.6" y2="168.7" stroke="#111" stroke-width="1.5"/>
<text x="274.6" y="180.44" font-size="8.2" text-anchor="start" font-weight="normal" fill="#111" stroke="#111" stroke-width="0.33" style="font-family:'Liberation Sans', sans-serif">n.s.</text>
<line x1="274" y1="182.7" x2="288" y2="182.7" stroke="#111" stroke-width="1.5"/>
<text x="306" y="137.6" font-size="8.2" fill="#111" stroke="#111" stroke-width="0.33" style="font-family:'Liberation Sans', sans-serif"><tspan font-style="italic">p</tspan>&lt;.001</text>
<line x1="305.8" y1="140.12" x2="331" y2="140.12" stroke="#111" stroke-width="1.5"/>
<line x1="305.8" y1="142.22" x2="319" y2="142.22" stroke="#111" stroke-width="1.5"/>
<text x="319.8" y="180.44" font-size="8.2" text-anchor="start" font-weight="normal" fill="#111" stroke="#111" stroke-width="0.33" style="font-family:'Liberation Sans', sans-serif">n.s.</text>
<line x1="319.2" y1="182.7" x2="333" y2="182.7" stroke="#111" stroke-width="1.5"/>
<text x="434.8" y="160.1" font-size="8.2" fill="#111" stroke="#111" stroke-width="0.33" style="font-family:'Liberation Sans', sans-serif"><tspan font-style="italic">p</tspan>&lt;.001</text>
<line x1="434.4" y1="162.1" x2="460" y2="162.1" stroke="#111" stroke-width="1.5"/>
<text x="438.6" y="172.1" font-size="8.2" fill="#111" stroke="#111" stroke-width="0.33" style="font-family:'Liberation Sans', sans-serif"><tspan font-style="italic">p</tspan>&lt;.01</text>
<line x1="434.1" y1="174.5" x2="447.6" y2="174.5" stroke="#111" stroke-width="1.5"/>
<line x1="448.1" y1="176" x2="461.5" y2="176" stroke="#111" stroke-width="1.5"/>
<text x="480.2" y="129.8" font-size="8.2" fill="#111" stroke="#111" stroke-width="0.33" style="font-family:'Liberation Sans', sans-serif"><tspan font-style="italic">p</tspan>&lt;.001</text>
<line x1="479.1" y1="132" x2="504.6" y2="132" stroke="#111" stroke-width="1.5"/>
<line x1="479.1" y1="133.9" x2="492.6" y2="133.9" stroke="#111" stroke-width="1.5"/>
<line x1="493.1" y1="135.6" x2="507" y2="135.6" stroke="#111" stroke-width="1.5"/>
<rect x="461.8" y="85.8" width="8.4" height="8" fill="#454545" stroke="#222" stroke-width="0.9"/>
<text x="477.6" y="93.7" font-size="9.3" text-anchor="start" font-weight="normal" fill="#111" stroke="#111" stroke-width="0.33" style="font-family:'Liberation Sans', sans-serif">wt</text>
<rect x="461.8" y="97.1" width="8.4" height="8" fill="#a8a8a8" stroke="#222" stroke-width="0.9"/>
<text x="476.3" y="105" font-size="9.3" text-anchor="start" font-weight="normal" fill="#111" stroke="#111" stroke-width="0.33" style="font-family:'Liberation Sans', sans-serif">RIAM<tspan dx="0.37" dy="-4" font-size="7.44" letter-spacing="0.65">-/-</tspan></text>
<rect x="461.8" y="108.4" width="8.4" height="8" fill="#f4f4f4" stroke="#222" stroke-width="0.9"/>
<text x="476.3" y="116.3" font-size="9.3" text-anchor="start" font-weight="normal" fill="#111" stroke="#111" stroke-width="0.33" style="font-family:'Liberation Sans', sans-serif">Talin-1<tspan dx="0.37" dy="-4" font-size="7.44" letter-spacing="0.65">-/-</tspan></text>
<text x="1" y="251.6" font-size="16.8" text-anchor="start" font-weight="bold" fill="#000" stroke="#000" stroke-width="0.33" style="font-family:'Liberation Sans', sans-serif">C</text>
<line x1="45.5" y1="261.8" x2="45.5" y2="360.2" stroke="#111" stroke-width="1.8"/>
<line x1="42.7" y1="359.5" x2="45.5" y2="359.5" stroke="#111" stroke-width="1.1"/>
<text x="41.3" y="362.6" font-size="8.6" text-anchor="end" font-weight="normal" fill="#111" stroke="#111" stroke-width="0.33" style="font-family:'Liberation Sans', sans-serif">0</text>
<line x1="42.7" y1="340.06" x2="45.5" y2="340.06" stroke="#111" stroke-width="1.1"/>
<text x="41.3" y="343.16" font-size="8.6" text-anchor="end" font-weight="normal" fill="#111" stroke="#111" stroke-width="0.33" style="font-family:'Liberation Sans', sans-serif">50</text>
<line x1="42.7" y1="320.62" x2="45.5" y2="320.62" stroke="#111" stroke-width="1.1"/>
<text x="41.3" y="323.72" font-size="8.6" text-anchor="end" font-weight="normal" fill="#111" stroke="#111" stroke-width="0.33" style="font-family:'Liberation Sans', sans-serif">100</text>
<line x1="42.7" y1="301.18" x2="45.5" y2="301.18" stroke="#111" stroke-width="1.1"/>
<text x="41.3" y="304.28" font-size="8.6" text-anchor="end" font-weight="normal" fill="#111" stroke="#111" stroke-width="0.33" style="font-family:'Liberation Sans', sans-serif">150</text>
<line x1="42.7" y1="281.74" x2="45.5" y2="281.74" stroke="#111" stroke-width="1.1"/>
<text x="41.3" y="284.84" font-size="8.6" text-anchor="end" font-weight="normal" fill="#111" stroke="#111" stroke-width="0.33" style="font-family:'Liberation Sans', sans-serif">200</text>
<line x1="42.7" y1="262.3" x2="45.5" y2="262.3" stroke="#111" stroke-width="1.1"/>
<text x="41.3" y="265.4" font-size="8.6" text-anchor="end" font-weight="normal" fill="#111" stroke="#111" stroke-width="0.33" style="font-family:'Liberation Sans', sans-serif">250</text>
<line x1="44.6" y1="359.5" x2="134.3" y2="359.5" stroke="#111" stroke-width="1.9"/>
<text transform="translate(20,311) rotate(-90)" font-size="8.65" text-anchor="middle" fill="#111" stroke="#111" stroke-width="0.33" style="font-family:'Liberation Sans', sans-serif">Cells per FOV</text>
<line x1="71.9" y1="272.7" x2="71.9" y2="268.6" stroke="#111" stroke-width="1.2"/>
<line x1="70" y1="268.6" x2="73.8" y2="268.6" stroke="#111" stroke-width="1.5"/>
<rect x="64.7" y="272.7" width="14.4" height="86.8" fill="#f0f0f0" stroke="none" stroke-width="0"/>
<rect x="64.7" y="295.3" width="14.4" height="64.2" fill="#575757" stroke="none" stroke-width="0"/>
<line x1="64.7" y1="295.3" x2="79.1" y2="295.3" stroke="#222" stroke-width="0.8"/>
<line x1="71.9" y1="295.3" x2="71.9" y2="287" stroke="#111" stroke-width="1.2"/>
<line x1="70" y1="287" x2="73.8" y2="287" stroke="#111" stroke-width="1.5"/>
<rect x="64.7" y="272.7" width="14.4" height="86.8" fill="none" stroke="#111" stroke-width="1.8"/>
<line x1="108.8" y1="342" x2="108.8" y2="340" stroke="#111" stroke-width="1.2"/>
<line x1="107" y1="340" x2="110.6" y2="340" stroke="#111" stroke-width="1.3"/>
<rect x="101.8" y="342" width="14" height="17.5" fill="#f0f0f0" stroke="none" stroke-width="0"/>
<rect x="101.8" y="354" width="14" height="5.5" fill="#575757" stroke="none" stroke-width="0"/>
<line x1="101.8" y1="354" x2="115.8" y2="354" stroke="#222" stroke-width="0.8"/>
<line x1="108.8" y1="354" x2="108.8" y2="351.6" stroke="#111" stroke-width="1.2"/>
<line x1="107.2" y1="351.6" x2="110.4" y2="351.6" stroke="#111" stroke-width="1.3"/>
<rect x="101.8" y="342" width="14" height="17.5" fill="none" stroke="#111" stroke-width="1.8"/>
<text x="79.4" y="254" font-size="7.3" fill="#111" stroke="#111" stroke-width="0.33" style="font-family:'Liberation Sans', sans-serif"><tspan font-style="italic">p</tspan>&lt;.001</text>
<line x1="72.2" y1="257.2" x2="109.1" y2="257.2" stroke="#111" stroke-width="1.5"/>
<rect x="122.6" y="254.8" width="7.8" height="7" fill="#565656" stroke="#222" stroke-width="0.9"/>
<rect x="122.6" y="266" width="7.8" height="7" fill="#f1f1f1" stroke="#222" stroke-width="0.9"/>
<text x="133.2" y="260.8" font-size="9.5" text-anchor="start" font-weight="normal" fill="#111" stroke="#111" stroke-width="0.33" style="font-family:'Liberation Sans', sans-serif">spread</text>
<text x="133.2" y="271.9" font-size="9.5" text-anchor="start" font-weight="normal" fill="#111" stroke="#111" stroke-width="0.33" style="font-family:'Liberation Sans', sans-serif">not spread</text>
<text x="72.2" y="371.2" font-size="9.2" text-anchor="middle" font-weight="normal" fill="#111" stroke="#111" stroke-width="0.33" style="font-family:'Liberation Sans', sans-serif">wt</text>
<text x="94.2" y="371.2" font-size="9.2" text-anchor="start" font-weight="normal" fill="#111" stroke="#111" stroke-width="0.33" style="font-family:'Liberation Sans', sans-serif">RIAM<tspan dx="0.37" dy="-3.96" font-size="7.36" letter-spacing="0.64">-/-</tspan></text>
<text x="236.3" y="251.5" font-size="16.6" text-anchor="start" font-weight="bold" fill="#000" stroke="#000" stroke-width="0.33" style="font-family:'Liberation Sans', sans-serif">D</text>
<line x1="274.2" y1="273.1" x2="274.2" y2="360.6" stroke="#111" stroke-width="1.8"/>
<line x1="271.3" y1="359.9" x2="274.2" y2="359.9" stroke="#111" stroke-width="1.1"/>
<text x="269.3" y="362.89" font-size="8.3" text-anchor="end" font-weight="normal" fill="#111" stroke="#111" stroke-width="0.33" style="font-family:'Liberation Sans', sans-serif">0</text>
<line x1="271.3" y1="349.11" x2="274.2" y2="349.11" stroke="#111" stroke-width="1.1"/>
<text x="269.3" y="352.1" font-size="8.3" text-anchor="end" font-weight="normal" fill="#111" stroke="#111" stroke-width="0.33" style="font-family:'Liberation Sans', sans-serif">2</text>
<line x1="271.3" y1="338.32" x2="274.2" y2="338.32" stroke="#111" stroke-width="1.1"/>
<text x="269.3" y="341.31" font-size="8.3" text-anchor="end" font-weight="normal" fill="#111" stroke="#111" stroke-width="0.33" style="font-family:'Liberation Sans', sans-serif">4</text>
<line x1="271.3" y1="327.54" x2="274.2" y2="327.54" stroke="#111" stroke-width="1.1"/>
<text x="269.3" y="330.53" font-size="8.3" text-anchor="end" font-weight="normal" fill="#111" stroke="#111" stroke-width="0.33" style="font-family:'Liberation Sans', sans-serif">6</text>
<line x1="271.3" y1="316.75" x2="274.2" y2="316.75" stroke="#111" stroke-width="1.1"/>
<text x="269.3" y="319.74" font-size="8.3" text-anchor="end" font-weight="normal" fill="#111" stroke="#111" stroke-width="0.33" style="font-family:'Liberation Sans', sans-serif">8</text>
<line x1="271.3" y1="305.96" x2="274.2" y2="305.96" stroke="#111" stroke-width="1.1"/>
<text x="269.3" y="308.95" font-size="8.3" text-anchor="end" font-weight="normal" fill="#111" stroke="#111" stroke-width="0.33" style="font-family:'Liberation Sans', sans-serif">10</text>
<line x1="271.3" y1="295.18" x2="274.2" y2="295.18" stroke="#111" stroke-width="1.1"/>
<text x="269.3" y="298.16" font-size="8.3" text-anchor="end" font-weight="normal" fill="#111" stroke="#111" stroke-width="0.33" style="font-family:'Liberation Sans', sans-serif">12</text>
<line x1="271.3" y1="284.39" x2="274.2" y2="284.39" stroke="#111" stroke-width="1.1"/>
<text x="269.3" y="287.38" font-size="8.3" text-anchor="end" font-weight="normal" fill="#111" stroke="#111" stroke-width="0.33" style="font-family:'Liberation Sans', sans-serif">14</text>
<line x1="271.3" y1="273.6" x2="274.2" y2="273.6" stroke="#111" stroke-width="1.1"/>
<text x="269.3" y="276.59" font-size="8.3" text-anchor="end" font-weight="normal" fill="#111" stroke="#111" stroke-width="0.33" style="font-family:'Liberation Sans', sans-serif">16</text>
<line x1="273.3" y1="359.9" x2="438.7" y2="359.9" stroke="#111" stroke-width="1.9"/>
<text transform="translate(253.9,316.7) rotate(-90)" font-size="8.6" text-anchor="middle" fill="#111" stroke="#111" stroke-width="0.33" style="font-family:'Liberation Sans', sans-serif">Rel. phagocytosis</text>
<line x1="292.8" y1="354.2" x2="292.8" y2="353.4" stroke="#111" stroke-width="1.1"/>
<line x1="291.2" y1="353.4" x2="294.4" y2="353.4" stroke="#111" stroke-width="1.2"/>
<rect x="285.5" y="354.2" width="14.6" height="5.7" fill="#3c3c3c" stroke="#111" stroke-width="1.5"/>
<line x1="307.4" y1="355.6" x2="307.4" y2="355" stroke="#111" stroke-width="1.1"/>
<line x1="305.8" y1="355" x2="309" y2="355" stroke="#111" stroke-width="1.2"/>
<rect x="300.1" y="355.6" width="14.6" height="4.3" fill="#7a7a7a" stroke="#111" stroke-width="1.5"/>
<line x1="322" y1="356.2" x2="322" y2="355.6" stroke="#111" stroke-width="1.1"/>
<line x1="320.4" y1="355.6" x2="323.6" y2="355.6" stroke="#111" stroke-width="1.2"/>
<rect x="314.7" y="356.2" width="14.6" height="3.7" fill="#dedede" stroke="#111" stroke-width="1.5"/>
<line x1="336.6" y1="355.8" x2="336.6" y2="355" stroke="#111" stroke-width="1.1"/>
<line x1="335" y1="355" x2="338.2" y2="355" stroke="#111" stroke-width="1.2"/>
<rect x="329.3" y="355.8" width="14.6" height="4.1" fill="#ffffff" stroke="#111" stroke-width="1.5"/>
<line x1="371.15" y1="294.3" x2="371.15" y2="277.6" stroke="#111" stroke-width="1.1"/>
<line x1="369.55" y1="277.6" x2="372.75" y2="277.6" stroke="#111" stroke-width="1.2"/>
<rect x="363.3" y="294.3" width="15.7" height="65.6" fill="#3c3c3c" stroke="#111" stroke-width="1.5"/>
<line x1="386.5" y1="334.9" x2="386.5" y2="329.9" stroke="#111" stroke-width="1.1"/>
<line x1="384.9" y1="329.9" x2="388.1" y2="329.9" stroke="#111" stroke-width="1.2"/>
<rect x="379" y="334.9" width="15" height="25" fill="#7a7a7a" stroke="#111" stroke-width="1.5"/>
<line x1="400.9" y1="351" x2="400.9" y2="349.6" stroke="#111" stroke-width="1.1"/>
<line x1="399.3" y1="349.6" x2="402.5" y2="349.6" stroke="#111" stroke-width="1.2"/>
<rect x="394" y="351" width="13.8" height="8.9" fill="#dedede" stroke="#111" stroke-width="1.5"/>
<line x1="415.2" y1="349.7" x2="415.2" y2="349" stroke="#111" stroke-width="1.1"/>
<line x1="413.6" y1="349" x2="416.8" y2="349" stroke="#111" stroke-width="1.2"/>
<rect x="407.8" y="349.7" width="14.8" height="10.2" fill="#ffffff" stroke="#111" stroke-width="1.5"/>
<text x="316" y="370.5" font-size="8.6" text-anchor="middle" font-weight="normal" fill="#111" stroke="#111" stroke-width="0.33" style="font-family:'Liberation Sans', sans-serif">4&#176;C</text>
<text x="394.5" y="370.6" font-size="8.6" text-anchor="middle" font-weight="normal" fill="#111" stroke="#111" stroke-width="0.33" style="font-family:'Liberation Sans', sans-serif">37&#176;C</text>
<text x="297.2" y="342.8" font-size="8.1" fill="#111" stroke="#111" stroke-width="0.33" style="font-family:'Liberation Sans', sans-serif"><tspan font-style="italic">p</tspan>&lt;0.01</text>
<line x1="292.5" y1="345.5" x2="322.1" y2="345.5" stroke="#111" stroke-width="1.5"/>
<text x="380.6" y="251.8" font-size="8.2" fill="#111" stroke="#111" stroke-width="0.33" style="font-family:'Liberation Sans', sans-serif"><tspan font-style="italic">p</tspan>&lt;.001</text>
<line x1="371.2" y1="253.8" x2="414.2" y2="253.8" stroke="#111" stroke-width="1.5"/>
<line x1="371.2" y1="256.8" x2="400.1" y2="256.8" stroke="#111" stroke-width="1.5"/>
<line x1="371.2" y1="259.9" x2="386.2" y2="259.9" stroke="#111" stroke-width="1.5"/>
<text x="381.2" y="271.3" font-size="8.2" fill="#111" stroke="#111" stroke-width="0.33" style="font-family:'Liberation Sans', sans-serif"><tspan font-style="italic">p</tspan>&lt;.001</text>
<line x1="386.2" y1="273.6" x2="401.4" y2="273.6" stroke="#111" stroke-width="1.5"/>
<text x="388" y="281.9" font-size="8.2" fill="#111" stroke="#111" stroke-width="0.33" style="font-family:'Liberation Sans', sans-serif"><tspan font-style="italic">p</tspan>&lt;.005</text>
<line x1="386.6" y1="285.3" x2="415.3" y2="285.3" stroke="#111" stroke-width="1.5"/>
<text x="402.1" y="297.6" font-size="8.2" text-anchor="start" font-weight="normal" fill="#111" stroke="#111" stroke-width="0.33" style="font-family:'Liberation Sans', sans-serif">n.s.</text>
<line x1="402" y1="298.6" x2="416.6" y2="298.6" stroke="#111" stroke-width="1.5"/>
<rect x="428.4" y="236.2" width="8.8" height="8.2" fill="#3c3c3c" stroke="#222" stroke-width="0.9"/>
<text x="442.7" y="243.6" font-size="9.4" text-anchor="start" font-weight="normal" fill="#111" stroke="#111" stroke-width="0.33" style="font-family:'Liberation Sans', sans-serif">wt</text>
<rect x="428.4" y="248.9" width="8.8" height="8.2" fill="#7a7a7a" stroke="#222" stroke-width="0.9"/>
<text x="441.2" y="256.3" font-size="9.4" text-anchor="start" font-weight="normal" fill="#111" stroke="#111" stroke-width="0.33" style="font-family:'Liberation Sans', sans-serif">RIAM<tspan dx="0.38" dy="-4.04" font-size="7.52" letter-spacing="0.66">-/-</tspan></text>
<rect x="428.4" y="261.6" width="8.8" height="8.2" fill="#e2e2e2" stroke="#222" stroke-width="0.9"/>
<text x="441.2" y="269" font-size="9.4" text-anchor="start" font-weight="normal" fill="#111" stroke="#111" stroke-width="0.33" style="font-family:'Liberation Sans', sans-serif">Talin-1<tspan dx="0.38" dy="-4.04" font-size="7.52" letter-spacing="0.66">-/-</tspan></text>
<rect x="428.4" y="274.3" width="8.8" height="8.2" fill="#ffffff" stroke="#222" stroke-width="0.9"/>
<text x="441.2" y="281.7" font-size="9.4" text-anchor="start" font-weight="normal" fill="#111" stroke="#111" stroke-width="0.33" style="font-family:'Liberation Sans', sans-serif">&#946;2 integrin<tspan dx="0.38" dy="-4.04" font-size="7.52" letter-spacing="0.66">-/-</tspan></text>
<text x="1" y="392" font-size="16.6" text-anchor="start" font-weight="bold" fill="#000" stroke="#000" stroke-width="0.33" style="font-family:'Liberation Sans', sans-serif">E</text>
<line x1="45.8" y1="388.7" x2="45.8" y2="481.7" stroke="#111" stroke-width="1.8"/>
<line x1="42.8" y1="481" x2="45.8" y2="481" stroke="#111" stroke-width="1.1"/>
<text x="41.2" y="484.02" font-size="8.4" text-anchor="end" font-weight="normal" fill="#111" stroke="#111" stroke-width="0.33" style="font-family:'Liberation Sans', sans-serif">0</text>
<line x1="42.8" y1="465.7" x2="45.8" y2="465.7" stroke="#111" stroke-width="1.1"/>
<text x="41.2" y="468.72" font-size="8.4" text-anchor="end" font-weight="normal" fill="#111" stroke="#111" stroke-width="0.33" style="font-family:'Liberation Sans', sans-serif">0.2</text>
<line x1="42.8" y1="450.4" x2="45.8" y2="450.4" stroke="#111" stroke-width="1.1"/>
<text x="41.2" y="453.42" font-size="8.4" text-anchor="end" font-weight="normal" fill="#111" stroke="#111" stroke-width="0.33" style="font-family:'Liberation Sans', sans-serif">0.4</text>
<line x1="42.8" y1="435.1" x2="45.8" y2="435.1" stroke="#111" stroke-width="1.1"/>
<text x="41.2" y="438.12" font-size="8.4" text-anchor="end" font-weight="normal" fill="#111" stroke="#111" stroke-width="0.33" style="font-family:'Liberation Sans', sans-serif">0.6</text>
<line x1="42.8" y1="419.8" x2="45.8" y2="419.8" stroke="#111" stroke-width="1.1"/>
<text x="41.2" y="422.82" font-size="8.4" text-anchor="end" font-weight="normal" fill="#111" stroke="#111" stroke-width="0.33" style="font-family:'Liberation Sans', sans-serif">0.8</text>
<line x1="42.8" y1="404.5" x2="45.8" y2="404.5" stroke="#111" stroke-width="1.1"/>
<text x="41.2" y="407.52" font-size="8.4" text-anchor="end" font-weight="normal" fill="#111" stroke="#111" stroke-width="0.33" style="font-family:'Liberation Sans', sans-serif">1.0</text>
<line x1="42.8" y1="389.2" x2="45.8" y2="389.2" stroke="#111" stroke-width="1.1"/>
<text x="41.2" y="392.22" font-size="8.4" text-anchor="end" font-weight="normal" fill="#111" stroke="#111" stroke-width="0.33" style="font-family:'Liberation Sans', sans-serif">1.2</text>
<line x1="44.9" y1="481" x2="205.4" y2="481" stroke="#111" stroke-width="1.9"/>
<line x1="68.46" y1="481" x2="68.46" y2="483.4" stroke="#111" stroke-width="1.1"/>
<line x1="91.18" y1="481" x2="91.18" y2="483.4" stroke="#111" stroke-width="1.1"/>
<line x1="113.9" y1="481" x2="113.9" y2="483.4" stroke="#111" stroke-width="1.1"/>
<line x1="136.62" y1="481" x2="136.62" y2="483.4" stroke="#111" stroke-width="1.1"/>
<line x1="159.34" y1="481" x2="159.34" y2="483.4" stroke="#111" stroke-width="1.1"/>
<line x1="182.06" y1="481" x2="182.06" y2="483.4" stroke="#111" stroke-width="1.1"/>
<line x1="204.78" y1="481" x2="204.78" y2="483.4" stroke="#111" stroke-width="1.1"/>
<line x1="205.4" y1="481" x2="205.4" y2="483.4" stroke="#111" stroke-width="1.1"/>
<text x="56.5" y="491.8" font-size="8.4" text-anchor="middle" font-weight="normal" fill="#111" stroke="#111" stroke-width="0.33" style="font-family:'Liberation Sans', sans-serif">0</text>
<text x="79.22" y="491.8" font-size="8.4" text-anchor="middle" font-weight="normal" fill="#111" stroke="#111" stroke-width="0.33" style="font-family:'Liberation Sans', sans-serif">10</text>
<text x="101.94" y="491.8" font-size="8.4" text-anchor="middle" font-weight="normal" fill="#111" stroke="#111" stroke-width="0.33" style="font-family:'Liberation Sans', sans-serif">20</text>
<text x="124.66" y="491.8" font-size="8.4" text-anchor="middle" font-weight="normal" fill="#111" stroke="#111" stroke-width="0.33" style="font-family:'Liberation Sans', sans-serif">30</text>
<text x="147.38" y="491.8" font-size="8.4" text-anchor="middle" font-weight="normal" fill="#111" stroke="#111" stroke-width="0.33" style="font-family:'Liberation Sans', sans-serif">40</text>
<text x="170.1" y="491.8" font-size="8.4" text-anchor="middle" font-weight="normal" fill="#111" stroke="#111" stroke-width="0.33" style="font-family:'Liberation Sans', sans-serif">50</text>
<text x="192.82" y="491.8" font-size="8.4" text-anchor="middle" font-weight="normal" fill="#111" stroke="#111" stroke-width="0.33" style="font-family:'Liberation Sans', sans-serif">60</text>
<text x="124.46" y="501.1" font-size="8.6" text-anchor="middle" font-weight="normal" fill="#111" stroke="#111" stroke-width="0.33" style="font-family:'Liberation Sans', sans-serif">Time [min]</text>
<text transform="translate(23.3,435.9) rotate(-90)" font-size="8.55" text-anchor="middle" fill="#111" stroke="#111" stroke-width="0.33" style="font-family:'Liberation Sans', sans-serif">Rel. fluorescence</text>
<line x1="79.82" y1="481" x2="79.82" y2="478.7" stroke="#111" stroke-width="1.2"/>
<line x1="78.42" y1="481" x2="81.22" y2="481" stroke="#111" stroke-width="1.1"/>
<line x1="78.42" y1="478.7" x2="81.22" y2="478.7" stroke="#111" stroke-width="1.1"/>
<line x1="102.54" y1="477.94" x2="102.54" y2="460.34" stroke="#111" stroke-width="1.2"/>
<line x1="101.14" y1="477.94" x2="103.94" y2="477.94" stroke="#111" stroke-width="1.1"/>
<line x1="101.14" y1="460.34" x2="103.94" y2="460.34" stroke="#111" stroke-width="1.1"/>
<line x1="125.26" y1="476.41" x2="125.26" y2="425.92" stroke="#111" stroke-width="1.2"/>
<line x1="123.86" y1="476.41" x2="126.66" y2="476.41" stroke="#111" stroke-width="1.1"/>
<line x1="123.86" y1="425.92" x2="126.66" y2="425.92" stroke="#111" stroke-width="1.1"/>
<line x1="147.98" y1="469.52" x2="147.98" y2="413.68" stroke="#111" stroke-width="1.2"/>
<line x1="146.58" y1="469.52" x2="149.38" y2="469.52" stroke="#111" stroke-width="1.1"/>
<line x1="146.58" y1="413.68" x2="149.38" y2="413.68" stroke="#111" stroke-width="1.1"/>
<line x1="170.7" y1="422.09" x2="170.7" y2="399.14" stroke="#111" stroke-width="1.2"/>
<line x1="169.3" y1="422.09" x2="172.1" y2="422.09" stroke="#111" stroke-width="1.1"/>
<line x1="169.3" y1="399.14" x2="172.1" y2="399.14" stroke="#111" stroke-width="1.1"/>
<line x1="170.7" y1="441.22" x2="170.7" y2="427.45" stroke="#111" stroke-width="1.2"/>
<line x1="169.3" y1="441.22" x2="172.1" y2="441.22" stroke="#111" stroke-width="1.1"/>
<line x1="169.3" y1="427.45" x2="172.1" y2="427.45" stroke="#111" stroke-width="1.1"/>
<line x1="170.7" y1="458.05" x2="170.7" y2="444.28" stroke="#111" stroke-width="1.2"/>
<line x1="169.3" y1="458.05" x2="172.1" y2="458.05" stroke="#111" stroke-width="1.1"/>
<line x1="169.3" y1="444.28" x2="172.1" y2="444.28" stroke="#111" stroke-width="1.1"/>
<line x1="193.42" y1="414.44" x2="193.42" y2="402.97" stroke="#111" stroke-width="1.2"/>
<line x1="192.02" y1="414.44" x2="194.82" y2="414.44" stroke="#111" stroke-width="1.1"/>
<line x1="192.02" y1="402.97" x2="194.82" y2="402.97" stroke="#111" stroke-width="1.1"/>
<line x1="193.42" y1="436.63" x2="193.42" y2="422.86" stroke="#111" stroke-width="1.2"/>
<line x1="192.02" y1="436.63" x2="194.82" y2="436.63" stroke="#111" stroke-width="1.1"/>
<line x1="192.02" y1="422.86" x2="194.82" y2="422.86" stroke="#111" stroke-width="1.1"/>
<line x1="193.42" y1="454.99" x2="193.42" y2="443.51" stroke="#111" stroke-width="1.2"/>
<line x1="192.02" y1="454.99" x2="194.82" y2="454.99" stroke="#111" stroke-width="1.1"/>
<line x1="192.02" y1="443.51" x2="194.82" y2="443.51" stroke="#111" stroke-width="1.1"/>
<path d="M57.1 481 L79.82 479.85 L102.54 471.82 L125.26 448.87 L147.98 428.21 L170.7 409.09 L193.42 408.32" fill="none" stroke="#8ee05a" stroke-width="1.8" stroke-linejoin="round"/>
<path d="M57.1 481 L79.82 480.24 L102.54 475.64 L125.26 463.4 L147.98 444.28 L170.7 434.33 L193.42 430.51" fill="none" stroke="#c0222c" stroke-width="1.8" stroke-linejoin="round"/>
<path d="M57.1 481 L79.82 480.24 L102.54 477.18 L125.26 468.76 L147.98 460.34 L170.7 451.16 L193.42 448.87" fill="none" stroke="#1c1cc0" stroke-width="1.8" stroke-linejoin="round"/>
<line x1="51.9" y1="394.6" x2="61.2" y2="394.6" stroke="#8ee05a" stroke-width="1.8"/>
<line x1="51.9" y1="403.8" x2="61.2" y2="403.8" stroke="#c0222c" stroke-width="1.8"/>
<line x1="51.9" y1="412.6" x2="61.2" y2="412.6" stroke="#1c1cc0" stroke-width="1.8"/>
<text x="65.8" y="397.7" font-size="9.5" text-anchor="start" font-weight="normal" fill="#111" stroke="#111" stroke-width="0.33" style="font-family:'Liberation Sans', sans-serif">wt</text>
<text x="65.8" y="407.7" font-size="9.5" text-anchor="start" font-weight="normal" fill="#111" stroke="#111" stroke-width="0.33" style="font-family:'Liberation Sans', sans-serif">RIAM<tspan dx="0.38" dy="-4.08" font-size="7.6" letter-spacing="0.67">-/-</tspan></text>
<text x="65.8" y="416.9" font-size="9.5" text-anchor="start" font-weight="normal" fill="#111" stroke="#111" stroke-width="0.33" style="font-family:'Liberation Sans', sans-serif">Talin-1<tspan dx="0.38" dy="-4.08" font-size="7.6" letter-spacing="0.67">-/-</tspan></text>
<text x="239" y="392.6" font-size="16.6" text-anchor="start" font-weight="bold" fill="#000" stroke="#000" stroke-width="0.33" style="font-family:'Liberation Sans', sans-serif">F</text>
<line x1="273.8" y1="388.7" x2="273.8" y2="481.7" stroke="#111" stroke-width="1.8"/>
<line x1="270.8" y1="481" x2="273.8" y2="481" stroke="#111" stroke-width="1.1"/>
<text x="269.3" y="484.02" font-size="8.4" text-anchor="end" font-weight="normal" fill="#111" stroke="#111" stroke-width="0.33" style="font-family:'Liberation Sans', sans-serif">0</text>
<line x1="270.8" y1="465.7" x2="273.8" y2="465.7" stroke="#111" stroke-width="1.1"/>
<text x="269.3" y="468.72" font-size="8.4" text-anchor="end" font-weight="normal" fill="#111" stroke="#111" stroke-width="0.33" style="font-family:'Liberation Sans', sans-serif">0.2</text>
<line x1="270.8" y1="450.4" x2="273.8" y2="450.4" stroke="#111" stroke-width="1.1"/>
<text x="269.3" y="453.42" font-size="8.4" text-anchor="end" font-weight="normal" fill="#111" stroke="#111" stroke-width="0.33" style="font-family:'Liberation Sans', sans-serif">0.4</text>
<line x1="270.8" y1="435.1" x2="273.8" y2="435.1" stroke="#111" stroke-width="1.1"/>
<text x="269.3" y="438.12" font-size="8.4" text-anchor="end" font-weight="normal" fill="#111" stroke="#111" stroke-width="0.33" style="font-family:'Liberation Sans', sans-serif">0.6</text>
<line x1="270.8" y1="419.8" x2="273.8" y2="419.8" stroke="#111" stroke-width="1.1"/>
<text x="269.3" y="422.82" font-size="8.4" text-anchor="end" font-weight="normal" fill="#111" stroke="#111" stroke-width="0.33" style="font-family:'Liberation Sans', sans-serif">0.8</text>
<line x1="270.8" y1="404.5" x2="273.8" y2="404.5" stroke="#111" stroke-width="1.1"/>
<text x="269.3" y="407.52" font-size="8.4" text-anchor="end" font-weight="normal" fill="#111" stroke="#111" stroke-width="0.33" style="font-family:'Liberation Sans', sans-serif">1.0</text>
<line x1="270.8" y1="389.2" x2="273.8" y2="389.2" stroke="#111" stroke-width="1.1"/>
<text x="269.3" y="392.22" font-size="8.4" text-anchor="end" font-weight="normal" fill="#111" stroke="#111" stroke-width="0.33" style="font-family:'Liberation Sans', sans-serif">1.2</text>
<line x1="272.9" y1="481" x2="433.4" y2="481" stroke="#111" stroke-width="1.9"/>
<line x1="296.66" y1="481" x2="296.66" y2="483.4" stroke="#111" stroke-width="1.1"/>
<line x1="319.38" y1="481" x2="319.38" y2="483.4" stroke="#111" stroke-width="1.1"/>
<line x1="342.1" y1="481" x2="342.1" y2="483.4" stroke="#111" stroke-width="1.1"/>
<line x1="364.82" y1="481" x2="364.82" y2="483.4" stroke="#111" stroke-width="1.1"/>
<line x1="387.54" y1="481" x2="387.54" y2="483.4" stroke="#111" stroke-width="1.1"/>
<line x1="410.26" y1="481" x2="410.26" y2="483.4" stroke="#111" stroke-width="1.1"/>
<line x1="432.98" y1="481" x2="432.98" y2="483.4" stroke="#111" stroke-width="1.1"/>
<line x1="433.4" y1="481" x2="433.4" y2="483.4" stroke="#111" stroke-width="1.1"/>
<text x="285.3" y="491.8" font-size="8.4" text-anchor="middle" font-weight="normal" fill="#111" stroke="#111" stroke-width="0.33" style="font-family:'Liberation Sans', sans-serif">0</text>
<text x="308.02" y="491.8" font-size="8.4" text-anchor="middle" font-weight="normal" fill="#111" stroke="#111" stroke-width="0.33" style="font-family:'Liberation Sans', sans-serif">10</text>
<text x="330.74" y="491.8" font-size="8.4" text-anchor="middle" font-weight="normal" fill="#111" stroke="#111" stroke-width="0.33" style="font-family:'Liberation Sans', sans-serif">20</text>
<text x="353.46" y="491.8" font-size="8.4" text-anchor="middle" font-weight="normal" fill="#111" stroke="#111" stroke-width="0.33" style="font-family:'Liberation Sans', sans-serif">30</text>
<text x="376.18" y="491.8" font-size="8.4" text-anchor="middle" font-weight="normal" fill="#111" stroke="#111" stroke-width="0.33" style="font-family:'Liberation Sans', sans-serif">40</text>
<text x="398.9" y="491.8" font-size="8.4" text-anchor="middle" font-weight="normal" fill="#111" stroke="#111" stroke-width="0.33" style="font-family:'Liberation Sans', sans-serif">50</text>
<text x="421.62" y="491.8" font-size="8.4" text-anchor="middle" font-weight="normal" fill="#111" stroke="#111" stroke-width="0.33" style="font-family:'Liberation Sans', sans-serif">60</text>
<text x="353.46" y="501.1" font-size="8.6" text-anchor="middle" font-weight="normal" fill="#111" stroke="#111" stroke-width="0.33" style="font-family:'Liberation Sans', sans-serif">Time [min]</text>
<text transform="translate(250.6,434.55) rotate(-90)" font-size="8.55" text-anchor="middle" fill="#111" stroke="#111" stroke-width="0.33" style="font-family:'Liberation Sans', sans-serif">Rel. fluorescence</text>
<line x1="308.02" y1="477.94" x2="308.02" y2="459.58" stroke="#111" stroke-width="1.2"/>
<line x1="306.62" y1="477.94" x2="309.42" y2="477.94" stroke="#111" stroke-width="1.1"/>
<line x1="306.62" y1="459.58" x2="309.42" y2="459.58" stroke="#111" stroke-width="1.1"/>
<line x1="330.74" y1="466.46" x2="330.74" y2="436.63" stroke="#111" stroke-width="1.2"/>
<line x1="329.34" y1="466.46" x2="332.14" y2="466.46" stroke="#111" stroke-width="1.1"/>
<line x1="329.34" y1="436.63" x2="332.14" y2="436.63" stroke="#111" stroke-width="1.1"/>
<line x1="353.46" y1="444.28" x2="353.46" y2="400.67" stroke="#111" stroke-width="1.2"/>
<line x1="352.06" y1="444.28" x2="354.86" y2="444.28" stroke="#111" stroke-width="1.1"/>
<line x1="352.06" y1="400.67" x2="354.86" y2="400.67" stroke="#111" stroke-width="1.1"/>
<line x1="376.18" y1="432.04" x2="376.18" y2="398.38" stroke="#111" stroke-width="1.2"/>
<line x1="374.78" y1="432.04" x2="377.58" y2="432.04" stroke="#111" stroke-width="1.1"/>
<line x1="374.78" y1="398.38" x2="377.58" y2="398.38" stroke="#111" stroke-width="1.1"/>
<line x1="398.9" y1="438.93" x2="398.9" y2="402.2" stroke="#111" stroke-width="1.2"/>
<line x1="397.5" y1="438.93" x2="400.3" y2="438.93" stroke="#111" stroke-width="1.1"/>
<line x1="397.5" y1="402.2" x2="400.3" y2="402.2" stroke="#111" stroke-width="1.1"/>
<line x1="421.62" y1="440.45" x2="421.62" y2="404.5" stroke="#111" stroke-width="1.2"/>
<line x1="420.22" y1="440.45" x2="423.02" y2="440.45" stroke="#111" stroke-width="1.1"/>
<line x1="420.22" y1="404.5" x2="423.02" y2="404.5" stroke="#111" stroke-width="1.1"/>
<path d="M285.3 481 L308.02 470.29 L330.74 450.4 L353.46 422.09 L376.18 409.86 L398.9 407.56 L421.62 412.91" fill="none" stroke="#8ee05a" stroke-width="1.8" stroke-linejoin="round"/>
<path d="M285.3 481 L308.02 470.29 L330.74 450.4 L353.46 422.09 L376.18 415.21 L398.9 413.68 L421.62 418.27" fill="none" stroke="#c0222c" stroke-width="1.8" stroke-linejoin="round"/>
<path d="M285.3 481 L308.02 466.46 L330.74 448.87 L353.46 431.27 L376.18 425.15 L398.9 428.21 L421.62 432.04" fill="none" stroke="#1c1cc0" stroke-width="1.8" stroke-linejoin="round"/>
</svg>
</body></html>
